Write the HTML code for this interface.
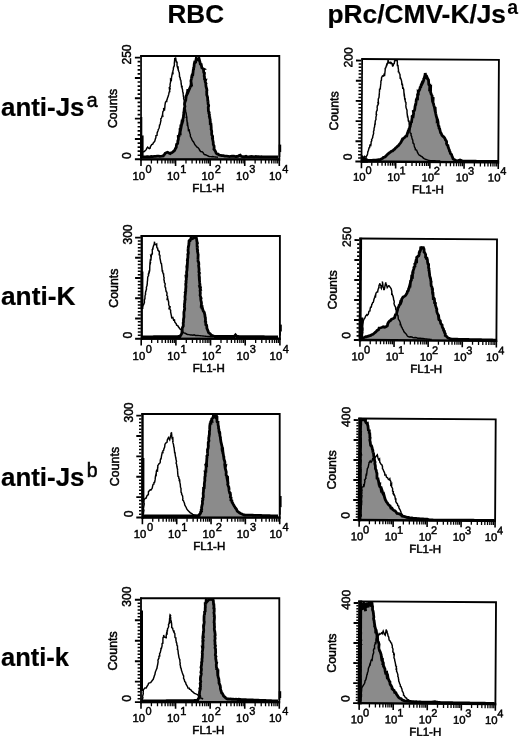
<!DOCTYPE html>
<html lang="en"><head><meta charset="utf-8"><title>Flow cytometry histograms</title>
<style>
html,body{margin:0;padding:0;background:#fff;}
body{width:520px;height:737px;overflow:hidden;}
svg{display:block;}
text{font-family:"Liberation Sans",Arial,Helvetica,sans-serif;fill:#000;}
.b{font-weight:bold;font-size:25px;stroke:#000;stroke-width:.2px;}
.sup{font-size:19.5px;font-weight:normal;stroke:#000;stroke-width:.5px;}
.ax{font-size:11.3px;stroke:#000;stroke-width:.45px;}
.ex{font-size:11px;stroke:#000;stroke-width:.45px;}
.yl{font-size:12px;stroke:#000;stroke-width:.45px;}
.cn{font-size:12.4px;stroke:#000;stroke-width:.5px;}
.fl{font-size:11.5px;stroke:#000;stroke-width:.5px;}
</style></head><body>
<svg width="520" height="737" viewBox="0 0 520 737">
<rect width="520" height="737" fill="#fff"/>
<text class="b" x="167.5" y="23" textLength="56.5" lengthAdjust="spacingAndGlyphs">RBC</text>
<text class="b" x="327.5" y="23" textLength="178.5" lengthAdjust="spacingAndGlyphs">pRc/CMV-K/Js</text>
<text class="sup" x="507.3" y="13.8" style="font-weight:bold;stroke:none">a</text>
<text class="b" x="1" y="115.5" textLength="83.5" lengthAdjust="spacingAndGlyphs">anti-Js</text>
<text class="sup" x="86.8" y="107">a</text>
<text class="b" x="1" y="305" textLength="74.5" lengthAdjust="spacingAndGlyphs">anti-K</text>
<text class="b" x="1" y="485.5" textLength="83.5" lengthAdjust="spacingAndGlyphs">anti-Js</text>
<text class="sup" x="86.8" y="477">b</text>
<text class="b" x="1" y="666.3" textLength="68" lengthAdjust="spacingAndGlyphs">anti-k</text>
<g>
<clipPath id="c1"><rect x="140.2" y="55.5" width="140.7" height="105"/></clipPath>
<g clip-path="url(#c1)">
<path d="M141.5 157 L142.93 156.93 L144.37 156.87 L145.8 156.8 L147.03 156.6 L148.52 156.76 L149.9 156.84 L151.23 156.37 L152.68 156.61 L154.31 156.38 L155.71 156.41 L157.2 156.1 L158.65 156.09 L159.86 156.32 L161.69 156.16 L163.27 155.94 L163.75 155.03 L164.6 154.3 L165.15 153.22 L166.77 152.48 L167.67 152.2 L168.91 153.06 L170.26 153.62 L171.21 152.8 L172.13 152.55 L173.47 151.42 L174.36 150.72 L174.87 149.94 L175.37 148.71 L176.26 147.24 L176.4 145.17 L176.71 144.06 L177.65 143.42 L177.86 140.75 L178.06 140.38 L178.42 138.97 L178.25 136.41 L179.04 136.2 L179.44 134.4 L179.77 132.54 L180.15 132.78 L180.05 129.85 L180.53 129.9 L180.75 127.11 L181.06 127.36 L181.28 126.21 L181.75 123.1 L182.01 123.5 L182.92 120.49 L182.72 119.88 L183.45 116.85 L183.45 117.55 L183.51 115.39 L183.93 113.1 L183.73 112.79 L184.11 111.02 L184.13 110.71 L184.3 108.61 L184.91 106.44 L184.52 104.53 L184.72 102.92 L184.96 102.09 L185.33 101.01 L185.73 100.31 L185.94 97.97 L186.11 97.15 L186.14 95.89 L186.67 95.06 L187.36 92.42 L187.55 91.85 L187.86 89.26 L188.52 91.12 L189.83 88.05 L190.62 86.23 L190.83 87.09 L191.05 84.02 L191.37 84.17 L190.91 80.98 L191.36 79.07 L191.65 77.17 L191.92 78.28 L191.73 76.44 L192.17 75 L192.76 74.99 L193.13 71.41 L193.37 69.44 L193.65 69.19 L193.67 67.06 L193.97 67.71 L194.22 64.1 L194.62 62.35 L195.33 62.55 L195.62 62.31 L196.3 58.1 L196.95 59.15 L198.15 59.91 L199.01 58.43 L200.06 62.45 L200.23 63.67 L200.98 63.55 L201.04 63.08 L201.13 64 L201.83 67.8 L202.97 68.63 L203.85 69.14 L203.46 69.3 L203.78 72.47 L204.48 73.05 L204.17 76.02 L204.49 76.85 L204.54 79.32 L205.29 80.4 L205.55 80.35 L205.17 81.68 L206.03 83.68 L205.79 84.03 L206.01 86.44 L206.8 89.34 L206.93 90.34 L206.65 91.76 L206.78 92.31 L206.76 94.84 L206.94 95.25 L207.43 96.77 L207.56 97.28 L207.75 100.38 L207.74 101.85 L208.02 100.45 L208.01 101.94 L208.11 104.13 L208.43 104.56 L208.68 105.94 L208.24 107.2 L208.47 111.29 L209.14 112.45 L208.87 113.18 L209.48 114.64 L209.29 116.63 L209.8 117.24 L209.67 117.88 L210.18 119.54 L210.19 121.9 L210.33 123.13 L210.27 123.74 L210.93 123.94 L211.11 125.97 L211.25 128.1 L211.11 130.17 L211.38 129.85 L211.71 131.12 L211.65 133.94 L211.83 134.94 L212.56 136.2 L212.68 138.31 L212.41 138.41 L213.02 141.18 L213.25 142.34 L213.26 144.2 L213.67 145.38 L214.04 145.89 L214.17 148.11 L213.91 149.21 L215.03 150.66 L215.54 151.53 L216.17 153.22 L217.09 154.04 L218.16 154.18 L219 155.04 L220.73 155.25 L221.75 155.7 L223.36 155.68 L224.76 156.06 L226.7 156.12 L228.21 156.27 L229.25 156.55 L230.51 156.33 L232.04 156.25 L233.99 156.17 L235.3 156.55 L236.39 156.49 L237.87 156.4 L239.06 155.53 L240.27 155.14 L240.75 155.8 L241.61 156.39 L243.45 156.77 L244.3 156.76 L246.08 156.3 L247.05 156.54 L248.99 156.79 L249.94 156.59 L251.81 156.49 L252.63 156.61 L254.42 156.86 L255.96 156.45 L256.86 156.53 L258.55 156.68 L260.17 156.81 L261.27 156.77 L262.66 156.79 L264.06 156.81 L265.45 156.83 L266.85 156.85 L268.24 156.87 L269.63 156.88 L271.03 156.9 L272.42 156.92 L273.82 156.94 L275.21 156.96 L276.61 156.98 L278 157 L279.3 160.5 L141 160.5 Z" fill="#8b8b8b" stroke="none"/>
<path d="M141.5 157 L142.93 156.93 L144.37 156.87 L145.8 156.8 L147.03 156.6 L148.52 156.76 L149.9 156.84 L151.23 156.37 L152.68 156.61 L154.31 156.38 L155.71 156.41 L157.2 156.1 L158.65 156.09 L159.86 156.32 L161.69 156.16 L163.27 155.94 L163.75 155.03 L164.6 154.3 L165.15 153.22 L166.77 152.48 L167.67 152.2 L168.91 153.06 L170.26 153.62 L171.21 152.8 L172.13 152.55 L173.47 151.42 L174.36 150.72 L174.87 149.94 L175.37 148.71 L176.26 147.24 L176.4 145.17 L176.71 144.06 L177.65 143.42 L177.86 140.75 L178.06 140.38 L178.42 138.97 L178.25 136.41 L179.04 136.2 L179.44 134.4 L179.77 132.54 L180.15 132.78 L180.05 129.85 L180.53 129.9 L180.75 127.11 L181.06 127.36 L181.28 126.21 L181.75 123.1 L182.01 123.5 L182.92 120.49 L182.72 119.88 L183.45 116.85 L183.45 117.55 L183.51 115.39 L183.93 113.1 L183.73 112.79 L184.11 111.02 L184.13 110.71 L184.3 108.61 L184.91 106.44 L184.52 104.53 L184.72 102.92 L184.96 102.09 L185.33 101.01 L185.73 100.31 L185.94 97.97 L186.11 97.15 L186.14 95.89 L186.67 95.06 L187.36 92.42 L187.55 91.85 L187.86 89.26 L188.52 91.12 L189.83 88.05 L190.62 86.23 L190.83 87.09 L191.05 84.02 L191.37 84.17 L190.91 80.98 L191.36 79.07 L191.65 77.17 L191.92 78.28 L191.73 76.44 L192.17 75 L192.76 74.99 L193.13 71.41 L193.37 69.44 L193.65 69.19 L193.67 67.06 L193.97 67.71 L194.22 64.1 L194.62 62.35 L195.33 62.55 L195.62 62.31 L196.3 58.1 L196.95 59.15 L198.15 59.91 L199.01 58.43 L200.06 62.45 L200.23 63.67 L200.98 63.55 L201.04 63.08 L201.13 64 L201.83 67.8 L202.97 68.63 L203.85 69.14 L203.46 69.3 L203.78 72.47 L204.48 73.05 L204.17 76.02 L204.49 76.85 L204.54 79.32 L205.29 80.4 L205.55 80.35 L205.17 81.68 L206.03 83.68 L205.79 84.03 L206.01 86.44 L206.8 89.34 L206.93 90.34 L206.65 91.76 L206.78 92.31 L206.76 94.84 L206.94 95.25 L207.43 96.77 L207.56 97.28 L207.75 100.38 L207.74 101.85 L208.02 100.45 L208.01 101.94 L208.11 104.13 L208.43 104.56 L208.68 105.94 L208.24 107.2 L208.47 111.29 L209.14 112.45 L208.87 113.18 L209.48 114.64 L209.29 116.63 L209.8 117.24 L209.67 117.88 L210.18 119.54 L210.19 121.9 L210.33 123.13 L210.27 123.74 L210.93 123.94 L211.11 125.97 L211.25 128.1 L211.11 130.17 L211.38 129.85 L211.71 131.12 L211.65 133.94 L211.83 134.94 L212.56 136.2 L212.68 138.31 L212.41 138.41 L213.02 141.18 L213.25 142.34 L213.26 144.2 L213.67 145.38 L214.04 145.89 L214.17 148.11 L213.91 149.21 L215.03 150.66 L215.54 151.53 L216.17 153.22 L217.09 154.04 L218.16 154.18 L219 155.04 L220.73 155.25 L221.75 155.7 L223.36 155.68 L224.76 156.06 L226.7 156.12 L228.21 156.27 L229.25 156.55 L230.51 156.33 L232.04 156.25 L233.99 156.17 L235.3 156.55 L236.39 156.49 L237.87 156.4 L239.06 155.53 L240.27 155.14 L240.75 155.8 L241.61 156.39 L243.45 156.77 L244.3 156.76 L246.08 156.3 L247.05 156.54 L248.99 156.79 L249.94 156.59 L251.81 156.49 L252.63 156.61 L254.42 156.86 L255.96 156.45 L256.86 156.53 L258.55 156.68 L260.17 156.81 L261.27 156.77 L262.66 156.79 L264.06 156.81 L265.45 156.83 L266.85 156.85 L268.24 156.87 L269.63 156.88 L271.03 156.9 L272.42 156.92 L273.82 156.94 L275.21 156.96 L276.61 156.98 L278 157" fill="none" stroke="#000" stroke-width="2.8" stroke-linejoin="miter" stroke-miterlimit="3" stroke-linecap="butt"/>
<path d="M141.5 156.5 L141.36 154.87 L141.49 153.3 L142.18 152.2 L143.15 151.86 L144.3 151.57 L145.58 150.34 L146.21 149.64 L146.86 148.21 L147.64 147.08 L148.36 147.91 L149.34 148.6 L150.24 148.1 L150.3 146.86 L150.89 145.84 L151.69 144.56 L152.77 144.11 L153.54 142.5 L153.97 142.14 L154.69 141.43 L155.35 138.94 L155.44 138.64 L155.86 137.89 L155.99 135.58 L156.99 135.41 L157.17 132.73 L157.65 131.61 L158.14 130.41 L158.2 129.7 L159.02 128.23 L159.32 127.16 L159.58 124.58 L159.79 125.4 L160.2 123.95 L160.82 120.84 L160.97 120.72 L160.78 118.77 L161.43 118.15 L162.01 116.61 L162.31 115.51 L162.77 115.81 L162.58 114.14 L162.91 111.54 L163.81 110.56 L163.56 108.06 L164.59 109.3 L164.93 106.53 L164.83 106.31 L165.01 104.8 L165.44 102.28 L166.22 101.18 L166.74 101.28 L166.82 99.95 L167.07 99.72 L167.43 98.33 L168.27 96.09 L168.78 94.13 L169.02 92.75 L169.49 91.36 L169.73 91.41 L169.34 88.1 L170.05 88.37 L169.69 87.1 L170.12 86.49 L170.21 86.04 L170.02 84.64 L170.64 81.55 L170.58 79.45 L171.36 80.11 L171.59 76.7 L171.65 76.95 L172.01 74.97 L172.31 73.46 L173.04 74.42 L172.84 71.23 L173.25 69.66 L173.48 67.55 L173.51 67.32 L174.16 66.2 L174.22 66.81 L174.41 64.23 L174.32 63.35 L174.54 61.21 L174.73 58.93 L175.07 59.08 L175.69 57.58 L175.91 59.5 L176.46 62.68 L176.4 62.29 L177.06 62.21 L177.04 64.83 L177.01 65.54 L177.78 68.63 L178.08 66.33 L178.2 70.43 L178.25 69.73 L178.79 71.41 L179.25 72.55 L179.51 75.26 L179.46 76.56 L180.11 77.83 L179.97 76.83 L180.48 80.46 L180.79 79.78 L181.11 82.76 L181.17 83.95 L181.62 86.14 L181.41 87.35 L182.16 85.72 L182.02 87.81 L182.58 89.78 L182.69 91.97 L183.02 92.33 L183.31 94.38 L183.09 93.11 L183.48 96.84 L183.94 97.13 L183.59 98.7 L184.24 100.3 L183.94 99.33 L184.31 101.18 L184.38 104.02 L184.85 104.72 L185.12 106.38 L184.76 106.7 L185.04 109.68 L185.3 108.84 L185.77 112.05 L185.6 111.41 L185.75 111.98 L186.15 113.19 L186.57 116.61 L186.32 117.23 L186.81 117.24 L186.88 120.42 L187.01 121.7 L187.07 120.76 L187.31 124.47 L187.64 124.08 L187.7 125.49 L188.07 126.99 L188.17 127.36 L188.41 130.46 L189.32 130.13 L189.36 131.43 L189.87 133.27 L190.41 134.74 L190.3 135.92 L190.67 136.86 L191.34 138 L192.06 139.86 L192.89 141.22 L193.31 141.58 L194.25 143.21 L194.73 144.45 L195.79 145.77 L196.83 146.64 L197.09 147.45 L197.98 147.64 L199.01 148.89 L199.69 150.28 L200.62 151.55 L202.03 151.67 L203.02 152.44 L203.72 153.86 L204.44 154.49 L205.49 154.79 L206.97 155.38 L208.19 156.02 L209.19 156.43 L210.67 156.62 L211.79 156.78 L212.74 156.56 L214.25 156.88 L215.5 157 L216.75 157.12 L218 157.25" fill="none" stroke="#000" stroke-width="1.45" stroke-linejoin="miter" stroke-miterlimit="3"/>
</g>
<path d="M140.2 56H279.3V160.5" fill="none" stroke="#000" stroke-width="1.85" stroke-linejoin="miter"/>
<rect x="140.2" y="55.2" width="1.7" height="105.3" fill="#000"/>
<rect x="140.2" y="158.2" width="139.9" height="2.3" fill="#000"/>
<rect x="140.2" y="117" width="2.1" height="41" fill="#000"/>
<rect x="140.2" y="135.45" width="3.4" height="22.55" fill="#000"/>
<rect x="278.7" y="144.6" width="2.5" height="7.5" fill="#000"/>
<rect x="278.7" y="152.1" width="1.6" height="4.9" fill="#000"/>
<path d="M137.6 61.67H140.4M137.6 65.74H140.4M137.6 69.8H140.4M137.6 73.87H140.4M137.6 82.01H140.4M137.6 86.08H140.4M137.6 90.14H140.4M137.6 94.21H140.4M137.6 102.35H140.4M137.6 106.42H140.4M137.6 110.48H140.4M137.6 114.55H140.4M137.6 122.69H140.4M137.6 126.76H140.4M137.6 130.82H140.4M137.6 134.89H140.4M137.6 143.03H140.4M137.6 147.1H140.4M137.6 151.16H140.4M137.6 155.23H140.4" stroke="#000" stroke-width="1.7" fill="none"/>
<path d="M134.9 57.6H140.4M134.9 77.94H140.4M134.9 98.28H140.4M134.9 118.62H140.4M134.9 138.96H140.4M134.9 159.3H140.4" stroke="#000" stroke-width="1.9" fill="none"/>
<path d="M151.41 160V163.5M157.5 160V163.5M161.82 160V163.5M165.17 160V163.5M167.9 160V163.5M170.22 160V163.5M172.22 160V163.5M173.99 160V163.5M185.98 160V163.5M192.07 160V163.5M196.39 160V163.5M199.74 160V163.5M202.48 160V163.5M204.79 160V163.5M206.8 160V163.5M208.57 160V163.5M220.56 160V163.5M226.65 160V163.5M230.97 160V163.5M234.32 160V163.5M237.05 160V163.5M239.37 160V163.5M241.37 160V163.5M243.14 160V163.5M255.13 160V163.5M261.22 160V163.5M265.54 160V163.5M268.89 160V163.5M271.63 160V163.5M273.94 160V163.5M275.95 160V163.5M277.72 160V163.5" stroke="#000" stroke-width="1.3" fill="none"/>
<path d="M141 160V166M175.57 160V166M210.15 160V166M244.73 160V166M279.3 160V166" stroke="#000" stroke-width="1.6" fill="none"/>
<text class="ax" x="132.4" y="180.1">10</text><text class="ex" x="145.6" y="173.1">0</text>
<text class="ax" x="166.97" y="180.1">10</text><text class="ex" x="180.17" y="173.1">1</text>
<text class="ax" x="201.55" y="180.1">10</text><text class="ex" x="214.75" y="173.1">2</text>
<text class="ax" x="236.12" y="180.1">10</text><text class="ex" x="249.33" y="173.1">3</text>
<text class="ax" x="269" y="180.1">10</text><text class="ex" x="282.2" y="173.1">4</text>
<text class="fl" x="208.35" y="192.2" text-anchor="middle">FL1-H</text>
<text class="yl" transform="translate(131.3 54.5) rotate(-90)" text-anchor="middle">250</text>
<text class="yl" transform="translate(131.3 155.7) rotate(-90)" text-anchor="middle">0</text>
<text class="cn" transform="translate(117.4 108.45) rotate(-90)" text-anchor="middle">Counts</text>
</g>
<g transform="rotate(0.35 430.2 110.5)">
<clipPath id="c2"><rect x="360.99" y="58.91" width="139.22" height="104.18"/></clipPath>
<g clip-path="url(#c2)">
<path d="M363.85 160.94 L365.22 160.9 L366.59 160.85 L367.96 160.81 L369.33 160.76 L370.7 160.71 L372.07 160.67 L373.44 160.62 L374.81 160.58 L376.27 160.39 L377.73 160.21 L379.19 160.03 L380.65 159.85 L381.5 159.27 L382.94 158.67 L383.76 157.64 L384.92 157.43 L386.14 156.5 L387.18 155.18 L388.61 153.93 L389.22 153.37 L390.61 152.31 L391.66 151.44 L392.83 151.13 L394.04 149.95 L394.88 149.5 L395.82 148.11 L397.06 147.26 L397.68 146.41 L398.77 145.74 L399.74 144.19 L400.72 143.08 L401.04 142.7 L402.16 140.26 L402.28 140.4 L403.58 138.44 L404.35 138.03 L406.05 136.14 L406.93 136.06 L407.28 134.31 L407.73 133.2 L408.31 131.11 L408.93 130 L409.25 128.74 L409.78 127.73 L410.32 126.58 L410.3 124.67 L410.66 124.63 L410.91 122.58 L411.65 122.12 L411.73 120.8 L412.18 117.85 L412.11 116.39 L412.91 115.65 L413.25 115.91 L413.62 113.25 L413.3 111.41 L413.76 111.15 L414.41 110.62 L414.73 109.38 L415.01 106.61 L415.46 104.64 L415.74 104.62 L416.12 101.24 L415.97 102.58 L416.26 99.68 L416.9 98.41 L417.46 98.6 L417.45 94.68 L418.21 94.4 L418.11 92.06 L418.31 92.21 L418.87 90.82 L419.68 89.27 L420.19 86.64 L420.54 87.76 L421.17 84.06 L421.34 84.65 L421.89 83.14 L422.15 83.44 L423.06 81.52 L423.6 79.77 L423.47 79.07 L423.98 78.06 L424.85 74.86 L424.99 73.12 L425.74 77.38 L426.5 77.94 L426.87 77.42 L427.55 78.95 L428.33 80 L428.43 81.35 L428.61 84.51 L429.09 85.17 L429.66 85.18 L429.53 88.59 L430.51 87.71 L430.45 92.34 L431.04 93.68 L431.14 94.98 L431.13 94.72 L432.01 95.83 L432.04 97.39 L432.32 99.9 L433.05 99.46 L432.92 102.59 L433.53 103.98 L433.81 105.64 L434.24 106.16 L434.17 105.98 L434.9 109.64 L435.25 109.37 L435.47 112.66 L435.42 111.56 L435.72 113.53 L436.4 116.57 L436.82 117.63 L437.26 119.78 L437.25 121 L437.81 120.66 L438.08 121.86 L438.31 124.79 L438.41 125.5 L439.07 126.28 L439.18 128.2 L439.73 128.62 L440.36 131.15 L440.72 132.61 L441.31 133.18 L442.09 135.22 L443.04 136.2 L443.48 136.36 L444.7 137.7 L445.42 139.07 L445.54 139.66 L446.5 140.79 L446.85 141.72 L446.69 143.53 L447.31 144.9 L448.07 145.25 L448.37 146.99 L449.14 148.88 L449.62 149.94 L449.73 150.98 L450.35 151.89 L450.66 153.43 L451.82 154.38 L452.17 155.71 L452.91 157.3 L453.45 158.84 L454.83 159.5 L455.92 160.24 L457.02 160.99 L458.66 160.42 L460.31 159.85 L461.77 160.42 L463.23 160.99 L464.65 160.99 L466.06 160.99 L467.48 160.99 L468.89 160.99 L470.31 160.99 L471.72 160.99 L473.14 160.99 L474.55 160.99 L475.97 160.99 L477.38 160.99 L478.8 160.99 L480.21 160.99 L481.63 160.99 L483.04 160.99 L484.46 160.99 L485.87 160.99 L487.29 160.99 L488.7 160.99 L490.12 160.99 L491.53 160.99 L492.95 160.99 L494.36 160.99 L495.78 160.99 L497.19 160.99 L498.61 160.99 L498.61 163.09 L361.79 163.09 Z" fill="#8b8b8b" stroke="none"/>
<path d="M363.85 160.94 L365.22 160.9 L366.59 160.85 L367.96 160.81 L369.33 160.76 L370.7 160.71 L372.07 160.67 L373.44 160.62 L374.81 160.58 L376.27 160.39 L377.73 160.21 L379.19 160.03 L380.65 159.85 L381.5 159.27 L382.94 158.67 L383.76 157.64 L384.92 157.43 L386.14 156.5 L387.18 155.18 L388.61 153.93 L389.22 153.37 L390.61 152.31 L391.66 151.44 L392.83 151.13 L394.04 149.95 L394.88 149.5 L395.82 148.11 L397.06 147.26 L397.68 146.41 L398.77 145.74 L399.74 144.19 L400.72 143.08 L401.04 142.7 L402.16 140.26 L402.28 140.4 L403.58 138.44 L404.35 138.03 L406.05 136.14 L406.93 136.06 L407.28 134.31 L407.73 133.2 L408.31 131.11 L408.93 130 L409.25 128.74 L409.78 127.73 L410.32 126.58 L410.3 124.67 L410.66 124.63 L410.91 122.58 L411.65 122.12 L411.73 120.8 L412.18 117.85 L412.11 116.39 L412.91 115.65 L413.25 115.91 L413.62 113.25 L413.3 111.41 L413.76 111.15 L414.41 110.62 L414.73 109.38 L415.01 106.61 L415.46 104.64 L415.74 104.62 L416.12 101.24 L415.97 102.58 L416.26 99.68 L416.9 98.41 L417.46 98.6 L417.45 94.68 L418.21 94.4 L418.11 92.06 L418.31 92.21 L418.87 90.82 L419.68 89.27 L420.19 86.64 L420.54 87.76 L421.17 84.06 L421.34 84.65 L421.89 83.14 L422.15 83.44 L423.06 81.52 L423.6 79.77 L423.47 79.07 L423.98 78.06 L424.85 74.86 L424.99 73.12 L425.74 77.38 L426.5 77.94 L426.87 77.42 L427.55 78.95 L428.33 80 L428.43 81.35 L428.61 84.51 L429.09 85.17 L429.66 85.18 L429.53 88.59 L430.51 87.71 L430.45 92.34 L431.04 93.68 L431.14 94.98 L431.13 94.72 L432.01 95.83 L432.04 97.39 L432.32 99.9 L433.05 99.46 L432.92 102.59 L433.53 103.98 L433.81 105.64 L434.24 106.16 L434.17 105.98 L434.9 109.64 L435.25 109.37 L435.47 112.66 L435.42 111.56 L435.72 113.53 L436.4 116.57 L436.82 117.63 L437.26 119.78 L437.25 121 L437.81 120.66 L438.08 121.86 L438.31 124.79 L438.41 125.5 L439.07 126.28 L439.18 128.2 L439.73 128.62 L440.36 131.15 L440.72 132.61 L441.31 133.18 L442.09 135.22 L443.04 136.2 L443.48 136.36 L444.7 137.7 L445.42 139.07 L445.54 139.66 L446.5 140.79 L446.85 141.72 L446.69 143.53 L447.31 144.9 L448.07 145.25 L448.37 146.99 L449.14 148.88 L449.62 149.94 L449.73 150.98 L450.35 151.89 L450.66 153.43 L451.82 154.38 L452.17 155.71 L452.91 157.3 L453.45 158.84 L454.83 159.5 L455.92 160.24 L457.02 160.99 L458.66 160.42 L460.31 159.85 L461.77 160.42 L463.23 160.99 L464.65 160.99 L466.06 160.99 L467.48 160.99 L468.89 160.99 L470.31 160.99 L471.72 160.99 L473.14 160.99 L474.55 160.99 L475.97 160.99 L477.38 160.99 L478.8 160.99 L480.21 160.99 L481.63 160.99 L483.04 160.99 L484.46 160.99 L485.87 160.99 L487.29 160.99 L488.7 160.99 L490.12 160.99 L491.53 160.99 L492.95 160.99 L494.36 160.99 L495.78 160.99 L497.19 160.99 L498.61 160.99" fill="none" stroke="#000" stroke-width="2.8" stroke-linejoin="miter" stroke-miterlimit="3" stroke-linecap="butt"/>
<path d="M363.85 160.58 L364.27 159.2 L364.27 157.42 L364.7 156.62 L365.62 157.22 L366.44 157.67 L366.93 156.31 L367.58 155.34 L367.88 154.05 L368.11 151.84 L368.57 151.24 L369.11 148.96 L369.22 148.16 L369.82 147.98 L370.12 145.6 L370.99 145.84 L371.34 143.35 L371.27 142.34 L372.01 141.01 L371.75 139.95 L372.49 138.68 L372.91 137.66 L372.96 136.2 L373 136.38 L373.78 133.84 L373.61 132.2 L373.7 131.58 L374.12 130.68 L374.2 128.38 L374.55 127.5 L374.6 127.69 L374.97 123.99 L375.43 125.06 L375.23 123.78 L375.23 122.32 L375.47 120.86 L376.03 119.8 L375.95 117.7 L376.58 114.96 L376.23 114.88 L376.38 112.16 L376.48 111.72 L377.1 110.78 L377.26 108.19 L377.09 108.52 L377.31 105.56 L377.42 106.24 L378.22 104.43 L377.72 102.14 L378.36 102.72 L378.19 100.35 L378.24 99.26 L378.91 97.8 L379.09 95.58 L379.18 95.04 L379.3 92.35 L379.36 92.9 L379.37 91.34 L379.4 89.59 L380.23 89.12 L380.11 88.64 L380.42 86.07 L380.38 86.12 L380.7 83.44 L380.75 80.92 L380.8 81.31 L381.23 80.68 L381.35 77.93 L382.28 76.2 L383.41 76.45 L383.8 74.68 L384.44 75.17 L384.6 73.58 L384.94 70.27 L384.93 69.35 L384.93 68.55 L385.54 68.04 L385.66 67.52 L386.48 64.8 L386.67 65.17 L387.54 62.84 L387.75 60.41 L388.85 63.3 L390.11 62.76 L390.73 64.31 L390.88 62.89 L391.79 63.75 L392.26 65.89 L392.01 66.6 L392.97 65.92 L392.97 63.49 L393.35 64.41 L394.01 63.75 L394.28 61.03 L395.67 60.65 L396.87 60.41 L397.09 62.78 L397.03 64.23 L397.17 66.38 L397.63 65.07 L397.89 67.74 L398.08 69.34 L398.3 69.95 L398.08 71.99 L398.86 72.37 L399.07 73.9 L399.17 73.55 L399.74 74.65 L399.98 78.2 L400.3 78.11 L401.02 80.01 L401.04 79.83 L401.5 81.79 L401.79 85.25 L402.18 83.88 L402.56 86.79 L402.35 85.87 L402.64 89.02 L403.05 88.2 L403.62 89.64 L403.79 92.36 L404 94.65 L404.18 94.39 L404.3 95.03 L404.36 95.65 L404.67 99.78 L405.14 98.31 L405.1 100.81 L405.44 102.33 L405.88 102.62 L405.96 105.32 L405.75 105.06 L406.04 107.77 L406.77 109.84 L406.98 110.11 L407.05 111.73 L407.02 112.42 L407.11 113.2 L407.48 116.2 L407.57 116.09 L407.67 116.13 L408.19 118.8 L408.4 121.08 L408.57 121.33 L409.05 121.25 L409.18 122.49 L409.46 125.3 L409.59 126.75 L409.28 126.07 L409.75 127.27 L410.29 128.76 L410.02 131.25 L410.14 132.77 L410.51 133.25 L411.22 133.56 L411.17 135.53 L411.86 136.66 L412.02 137.81 L412.5 139.54 L412.91 140.08 L413.21 143.11 L413.42 143.07 L414.22 144.15 L414.46 145.82 L414.65 146.92 L415.51 148.59 L415.56 149.74 L416.81 150.25 L417.35 151.35 L417.75 152.46 L418.71 154.17 L419.53 155.19 L420.41 155.53 L421.12 156.24 L422.57 156.96 L423.43 157.94 L424.38 158.71 L425.81 159.34 L426.88 159.66 L428.25 160.12 L429.62 160.58 L430.99 160.63 L432.36 160.68 L433.73 160.73 L435.1 160.78 L436.47 160.84 L437.84 160.89 L439.21 160.94 L440.58 160.99" fill="none" stroke="#000" stroke-width="1.45" stroke-linejoin="miter" stroke-miterlimit="3"/>
</g>
<path d="M360.99 59.41H498.61V163.09" fill="none" stroke="#000" stroke-width="1.85" stroke-linejoin="miter"/>
<rect x="360.99" y="58.61" width="1.7" height="104.48" fill="#000"/>
<rect x="360.99" y="160.79" width="138.42" height="2.3" fill="#000"/>
<path d="M360.99 153.59L363.99 157.09L368.29 159.09L368.29 163.09L360.99 163.09Z" fill="#000"/>
<path d="M358.39 64.37H361.19M358.39 67.74H361.19M358.39 71.1H361.19M358.39 74.46H361.19M358.39 77.82H361.19M358.39 84.55H361.19M358.39 87.91H361.19M358.39 91.27H361.19M358.39 94.64H361.19M358.39 98H361.19M358.39 104.72H361.19M358.39 108.09H361.19M358.39 111.45H361.19M358.39 114.81H361.19M358.39 118.18H361.19M358.39 124.9H361.19M358.39 128.26H361.19M358.39 131.63H361.19M358.39 134.99H361.19M358.39 138.35H361.19M358.39 145.08H361.19M358.39 148.44H361.19M358.39 151.8H361.19M358.39 155.16H361.19M358.39 158.53H361.19" stroke="#000" stroke-width="1.5" fill="none"/>
<path d="M355.69 61.01H361.19M355.69 81.19H361.19M355.69 101.36H361.19M355.69 121.54H361.19M355.69 141.71H361.19M355.69 161.89H361.19" stroke="#000" stroke-width="1.9" fill="none"/>
<path d="M372.09 162.59V166.09M378.11 162.59V166.09M382.38 162.59V166.09M385.7 162.59V166.09M388.41 162.59V166.09M390.7 162.59V166.09M392.68 162.59V166.09M394.43 162.59V166.09M406.29 162.59V166.09M412.31 162.59V166.09M416.59 162.59V166.09M419.9 162.59V166.09M422.61 162.59V166.09M424.9 162.59V166.09M426.89 162.59V166.09M428.63 162.59V166.09M440.5 162.59V166.09M446.52 162.59V166.09M450.79 162.59V166.09M454.11 162.59V166.09M456.82 162.59V166.09M459.11 162.59V166.09M461.09 162.59V166.09M462.84 162.59V166.09M474.7 162.59V166.09M480.72 162.59V166.09M485 162.59V166.09M488.31 162.59V166.09M491.02 162.59V166.09M493.31 162.59V166.09M495.3 162.59V166.09M497.04 162.59V166.09" stroke="#000" stroke-width="1.3" fill="none"/>
<path d="M361.79 162.59V168.59M396 162.59V168.59M430.2 162.59V168.59M464.41 162.59V168.59M498.61 162.59V168.59" stroke="#000" stroke-width="1.6" fill="none"/>
<text class="ax" x="353.49" y="181.21">10</text><text class="ex" x="365.79" y="174.41">0</text>
<text class="ax" x="387.69" y="181.21">10</text><text class="ex" x="400" y="174.41">1</text>
<text class="ax" x="421.9" y="181.21">10</text><text class="ex" x="434.2" y="174.41">2</text>
<text class="ax" x="456.11" y="181.21">10</text><text class="ex" x="468.41" y="174.41">3</text>
<text class="ax" x="488.31" y="181.21">10</text><text class="ex" x="500.61" y="174.41">4</text>
<text class="fl" x="428.4" y="193.41" text-anchor="middle">FL1-H</text>
<text class="yl" transform="translate(352.09 57.91) rotate(-90)" text-anchor="middle">200</text>
<text class="yl" transform="translate(352.09 157.29) rotate(-90)" text-anchor="middle">0</text>
<text class="cn" transform="translate(338.19 111.5) rotate(-90)" text-anchor="middle">Counts</text>
</g>
<g>
<clipPath id="c3"><rect x="140.6" y="235.5" width="140.9" height="104.4"/></clipPath>
<g clip-path="url(#c3)">
<path d="M141.5 336.9 L142.88 336.89 L144.25 336.87 L145.62 336.86 L147 336.84 L148.38 336.83 L149.75 336.81 L151.12 336.8 L152.5 336.79 L153.88 336.77 L155.25 336.76 L156.62 336.74 L158 336.73 L159.38 336.71 L160.75 336.7 L162.12 336.69 L163.5 336.67 L164.88 336.66 L166.25 336.64 L167.62 336.63 L169 336.61 L170.38 336.6 L171.75 336.59 L173.12 336.57 L174.5 336.56 L175.88 336.54 L177.25 336.53 L178.62 336.51 L180 336.5 L180.58 335.42 L181.31 334.2 L181.78 333.32 L181.93 332.08 L182.21 330.59 L182.2 328.81 L182.43 327.6 L183.26 326.02 L183.3 324.67 L183.16 322.99 L183.5 322.03 L183.45 320.43 L183.52 319.21 L183.85 317.47 L183.96 317.05 L183.95 315.97 L183.89 314.53 L183.89 312.12 L184.43 310.09 L184.39 310.46 L184.71 308.73 L184.39 306.63 L184.68 304.65 L184.34 305.09 L184.84 302.05 L184.78 300.94 L185.18 299.54 L185.16 299.27 L184.96 296.66 L185.18 295.63 L185.32 294.05 L185.54 292.9 L185.16 292.46 L185.78 290.83 L185.62 289.97 L185.97 286.18 L185.74 284.8 L185.72 284.04 L185.89 283.91 L186.25 281.29 L185.75 282.06 L186.38 279.3 L186 276.34 L186.66 276.38 L186.7 275.75 L186.71 274.4 L186.45 271.19 L186.67 271.44 L187.01 269.99 L186.95 267.64 L186.77 266.84 L187.18 264.91 L187.32 265.06 L187.56 260.65 L187.21 261.03 L187.61 258.52 L187.89 257.77 L187.89 254.95 L187.66 253.46 L188.14 253.9 L188.36 252.85 L188.04 250.56 L188.19 248.6 L188.11 248.92 L188.37 246.82 L188.85 244.74 L188.86 243.52 L188.98 243.44 L189.02 241.01 L189.23 240.67 L190.11 240.58 L190.99 238.14 L192.27 238.77 L193.64 238.06 L194.42 237.2 L196.18 237.2 L196.67 239.53 L196.89 241.46 L197.32 242.61 L197.41 243.14 L197.05 243.37 L197.15 247.78 L197.54 246 L197.21 249 L197.67 250.06 L197.41 251.13 L198.1 254.18 L198.15 253.9 L198.14 255.01 L197.97 259.07 L198 258.09 L198.1 261.47 L198.52 261.86 L198.72 262.78 L198.86 265.21 L198.52 264.75 L198.78 266.82 L199.04 268.87 L199.1 270.06 L198.86 271.88 L199.45 272.89 L199.35 272.98 L199.03 275.02 L199.45 277.25 L199.46 278.04 L199.28 277.91 L199.39 280.09 L199.57 280.95 L199.71 282.89 L200.11 285.98 L200.3 286.76 L199.68 286.72 L200.44 289.36 L200.41 289.36 L200.05 290.47 L200.31 292.55 L200.34 293.33 L200.1 295.35 L200.8 297.38 L200.72 297.38 L200.79 299.6 L201.09 301.14 L201.38 302.31 L201.49 303.17 L201.25 306.41 L202.06 306.51 L201.91 309.11 L202.5 308.45 L203.09 310.64 L203.36 311.26 L204.16 312.15 L204.39 313.26 L204.81 314.64 L205.08 316.94 L205.36 317.4 L205.5 319.85 L205.28 321.61 L205.75 321.93 L205.8 324.59 L206.46 324.97 L206.77 326.21 L206.89 328.41 L207.59 329.94 L208.08 331.09 L208.47 332.38 L209.28 333.18 L210.34 333.94 L211.22 335.12 L212.25 335.5 L213.5 336 L214.75 336.5 L216.14 336.5 L217.54 336.5 L218.93 336.5 L220.32 336.5 L221.71 336.5 L223.11 336.5 L224.5 336.5 L225.89 336.5 L227.29 336.5 L228.68 336.5 L230.07 336.5 L231.46 336.5 L232.86 336.5 L234.25 336.5 L234.88 335.62 L235.51 334.91 L236.12 335.62 L236.75 336.5 L238.17 336.51 L239.59 336.53 L241.02 336.54 L242.44 336.56 L243.86 336.57 L245.28 336.58 L246.71 336.6 L248.13 336.61 L249.55 336.62 L250.97 336.64 L252.4 336.65 L253.82 336.67 L255.24 336.68 L256.66 336.69 L258.09 336.71 L259.51 336.72 L260.93 336.73 L262.35 336.75 L263.78 336.76 L265.2 336.78 L266.62 336.79 L268.04 336.8 L269.47 336.82 L270.89 336.83 L272.31 336.84 L273.73 336.86 L275.16 336.87 L276.58 336.89 L278 336.9 L279.9 339.9 L141.2 339.9 Z" fill="#8b8b8b" stroke="none"/>
<path d="M141.5 336.9 L142.88 336.89 L144.25 336.87 L145.62 336.86 L147 336.84 L148.38 336.83 L149.75 336.81 L151.12 336.8 L152.5 336.79 L153.88 336.77 L155.25 336.76 L156.62 336.74 L158 336.73 L159.38 336.71 L160.75 336.7 L162.12 336.69 L163.5 336.67 L164.88 336.66 L166.25 336.64 L167.62 336.63 L169 336.61 L170.38 336.6 L171.75 336.59 L173.12 336.57 L174.5 336.56 L175.88 336.54 L177.25 336.53 L178.62 336.51 L180 336.5 L180.58 335.42 L181.31 334.2 L181.78 333.32 L181.93 332.08 L182.21 330.59 L182.2 328.81 L182.43 327.6 L183.26 326.02 L183.3 324.67 L183.16 322.99 L183.5 322.03 L183.45 320.43 L183.52 319.21 L183.85 317.47 L183.96 317.05 L183.95 315.97 L183.89 314.53 L183.89 312.12 L184.43 310.09 L184.39 310.46 L184.71 308.73 L184.39 306.63 L184.68 304.65 L184.34 305.09 L184.84 302.05 L184.78 300.94 L185.18 299.54 L185.16 299.27 L184.96 296.66 L185.18 295.63 L185.32 294.05 L185.54 292.9 L185.16 292.46 L185.78 290.83 L185.62 289.97 L185.97 286.18 L185.74 284.8 L185.72 284.04 L185.89 283.91 L186.25 281.29 L185.75 282.06 L186.38 279.3 L186 276.34 L186.66 276.38 L186.7 275.75 L186.71 274.4 L186.45 271.19 L186.67 271.44 L187.01 269.99 L186.95 267.64 L186.77 266.84 L187.18 264.91 L187.32 265.06 L187.56 260.65 L187.21 261.03 L187.61 258.52 L187.89 257.77 L187.89 254.95 L187.66 253.46 L188.14 253.9 L188.36 252.85 L188.04 250.56 L188.19 248.6 L188.11 248.92 L188.37 246.82 L188.85 244.74 L188.86 243.52 L188.98 243.44 L189.02 241.01 L189.23 240.67 L190.11 240.58 L190.99 238.14 L192.27 238.77 L193.64 238.06 L194.42 237.2 L196.18 237.2 L196.67 239.53 L196.89 241.46 L197.32 242.61 L197.41 243.14 L197.05 243.37 L197.15 247.78 L197.54 246 L197.21 249 L197.67 250.06 L197.41 251.13 L198.1 254.18 L198.15 253.9 L198.14 255.01 L197.97 259.07 L198 258.09 L198.1 261.47 L198.52 261.86 L198.72 262.78 L198.86 265.21 L198.52 264.75 L198.78 266.82 L199.04 268.87 L199.1 270.06 L198.86 271.88 L199.45 272.89 L199.35 272.98 L199.03 275.02 L199.45 277.25 L199.46 278.04 L199.28 277.91 L199.39 280.09 L199.57 280.95 L199.71 282.89 L200.11 285.98 L200.3 286.76 L199.68 286.72 L200.44 289.36 L200.41 289.36 L200.05 290.47 L200.31 292.55 L200.34 293.33 L200.1 295.35 L200.8 297.38 L200.72 297.38 L200.79 299.6 L201.09 301.14 L201.38 302.31 L201.49 303.17 L201.25 306.41 L202.06 306.51 L201.91 309.11 L202.5 308.45 L203.09 310.64 L203.36 311.26 L204.16 312.15 L204.39 313.26 L204.81 314.64 L205.08 316.94 L205.36 317.4 L205.5 319.85 L205.28 321.61 L205.75 321.93 L205.8 324.59 L206.46 324.97 L206.77 326.21 L206.89 328.41 L207.59 329.94 L208.08 331.09 L208.47 332.38 L209.28 333.18 L210.34 333.94 L211.22 335.12 L212.25 335.5 L213.5 336 L214.75 336.5 L216.14 336.5 L217.54 336.5 L218.93 336.5 L220.32 336.5 L221.71 336.5 L223.11 336.5 L224.5 336.5 L225.89 336.5 L227.29 336.5 L228.68 336.5 L230.07 336.5 L231.46 336.5 L232.86 336.5 L234.25 336.5 L234.88 335.62 L235.51 334.91 L236.12 335.62 L236.75 336.5 L238.17 336.51 L239.59 336.53 L241.02 336.54 L242.44 336.56 L243.86 336.57 L245.28 336.58 L246.71 336.6 L248.13 336.61 L249.55 336.62 L250.97 336.64 L252.4 336.65 L253.82 336.67 L255.24 336.68 L256.66 336.69 L258.09 336.71 L259.51 336.72 L260.93 336.73 L262.35 336.75 L263.78 336.76 L265.2 336.78 L266.62 336.79 L268.04 336.8 L269.47 336.82 L270.89 336.83 L272.31 336.84 L273.73 336.86 L275.16 336.87 L276.58 336.89 L278 336.9" fill="none" stroke="#000" stroke-width="2.8" stroke-linejoin="miter" stroke-miterlimit="3" stroke-linecap="butt"/>
<path d="M141.5 307 L142.21 307.78 L143.01 305.08 L143.57 304.73 L144.04 303.52 L144.41 302.68 L144.35 299.73 L144.95 298.52 L144.91 299.53 L144.98 296.37 L145.21 294.95 L145.67 293.95 L145.4 293.51 L145.73 291.1 L145.76 291.71 L146.21 289.79 L146.49 289.33 L146.4 287.4 L147.13 285.1 L147.05 284.01 L147.18 284.61 L147.31 282.74 L147.36 281.63 L147.56 280.42 L147.72 277.34 L148.03 276.29 L148.57 275.76 L148.23 273.45 L148.67 273.95 L149 271.93 L149.29 272.27 L149.56 271.19 L149.72 269.93 L149.75 267.67 L149.83 265.37 L150.19 264.08 L150.41 263.04 L149.97 263.26 L150.46 258.94 L150.87 260.58 L151.09 258.12 L150.77 255.94 L151.28 256.4 L151.54 253.52 L151.5 255.06 L152.35 253.7 L152.26 249.11 L152.3 249.71 L153.01 249.02 L152.73 248.65 L153.6 245.6 L154.19 244.39 L154.53 241.71 L154.7 244.25 L155.82 244.68 L156.66 244.07 L156.83 247.33 L157.28 248.06 L157.57 247.48 L157.86 250.26 L158.79 251.24 L158.89 251.03 L159.39 251.77 L159.18 254.75 L159.74 254.95 L159.99 255.56 L159.9 257.97 L160.55 260.91 L160.73 262.34 L161.19 263.71 L161.4 262.97 L161.6 265.17 L161.58 264.6 L161.88 267.14 L161.94 267.76 L162.25 271 L162.66 270.98 L162.64 271.83 L163.41 274.37 L163.57 273.39 L163.72 276.76 L163.58 276.5 L164.15 277.61 L163.89 279.95 L164.25 280.55 L164.42 282.66 L164.84 283.09 L165.21 283.8 L164.97 285.42 L165 287.02 L165.55 287.57 L165.75 289.43 L166.06 290.88 L166.14 291.62 L166.76 292.06 L167.02 293.51 L166.77 295.57 L167.59 296.26 L167.19 298.92 L167.76 298.56 L168.27 300.96 L168.41 301.04 L168.65 302.15 L168.69 304.67 L169.49 306.76 L169.21 307.93 L169.99 307.35 L169.69 308.85 L170.64 310.23 L170.61 312.34 L170.82 312.92 L171.21 315.11 L171.26 314.86 L171.71 317.85 L172.83 317.48 L173.58 320.21 L174.48 319.96 L174.74 321.93 L176.23 323.88 L176.61 325.16 L177.8 325.64 L178.19 326.52 L179.15 327.74 L180.09 329.21 L181.25 329.45 L181.47 330.86 L182.34 331.25 L183.48 332.59 L184.44 333.14 L185.25 333.3 L186.95 334.24 L187.71 334.55 L188.94 334.6 L190.73 335.04 L191.81 335.09 L193 335.27 L194.06 334.86 L195.49 335.51 L196.85 335.47 L198 335.5 L199.25 335.62 L200.5 335.75 L201.75 335.88 L203 336 L204.25 336.12 L205.5 336.25 L206.75 336.36 L208 336.47 L209.25 336.58 L210.5 336.68 L211.75 336.79 L213 336.9" fill="none" stroke="#000" stroke-width="1.45" stroke-linejoin="miter" stroke-miterlimit="3"/>
</g>
<path d="M140.6 236H279.9V339.9" fill="none" stroke="#000" stroke-width="1.85" stroke-linejoin="miter"/>
<rect x="140.6" y="235.2" width="2.3" height="104.7" fill="#000"/>
<rect x="140.6" y="337.6" width="140.1" height="2.3" fill="#000"/>
<rect x="140.6" y="271.5" width="2.8" height="37.5" fill="#000"/>
<rect x="279.3" y="324.6" width="2.5" height="6.9" fill="#000"/>
<rect x="279.3" y="331.5" width="1.6" height="4.1" fill="#000"/>
<path d="M137.8 240.97H140.8M137.8 244.34H140.8M137.8 247.71H140.8M137.8 251.08H140.8M137.8 254.45H140.8M137.8 261.19H140.8M137.8 264.56H140.8M137.8 267.93H140.8M137.8 271.3H140.8M137.8 274.67H140.8M137.8 281.41H140.8M137.8 284.78H140.8M137.8 288.15H140.8M137.8 291.52H140.8M137.8 294.89H140.8M137.8 301.63H140.8M137.8 305H140.8M137.8 308.37H140.8M137.8 311.74H140.8M137.8 315.11H140.8M137.8 321.85H140.8M137.8 325.22H140.8M137.8 328.59H140.8M137.8 331.96H140.8M137.8 335.33H140.8" stroke="#000" stroke-width="1.5" fill="none"/>
<path d="M135.1 237.6H140.8M135.1 257.82H140.8M135.1 278.04H140.8M135.1 298.26H140.8M135.1 318.48H140.8M135.1 338.7H140.8" stroke="#000" stroke-width="1.9" fill="none"/>
<path d="M151.64 339.4V342.9M157.74 339.4V342.9M162.08 339.4V342.9M165.44 339.4V342.9M168.18 339.4V342.9M170.5 339.4V342.9M172.51 339.4V342.9M174.29 339.4V342.9M186.31 339.4V342.9M192.42 339.4V342.9M196.75 339.4V342.9M200.11 339.4V342.9M202.86 339.4V342.9M205.18 339.4V342.9M207.19 339.4V342.9M208.96 339.4V342.9M220.99 339.4V342.9M227.09 339.4V342.9M231.43 339.4V342.9M234.79 339.4V342.9M237.53 339.4V342.9M239.85 339.4V342.9M241.86 339.4V342.9M243.64 339.4V342.9M255.66 339.4V342.9M261.77 339.4V342.9M266.1 339.4V342.9M269.46 339.4V342.9M272.21 339.4V342.9M274.53 339.4V342.9M276.54 339.4V342.9M278.31 339.4V342.9" stroke="#000" stroke-width="1.3" fill="none"/>
<path d="M141.2 339.4V345.4M175.88 339.4V345.4M210.55 339.4V345.4M245.22 339.4V345.4M279.9 339.4V345.4" stroke="#000" stroke-width="1.6" fill="none"/>
<text class="ax" x="132.6" y="360.1">10</text><text class="ex" x="145.8" y="353.1">0</text>
<text class="ax" x="167.27" y="360.1">10</text><text class="ex" x="180.47" y="353.1">1</text>
<text class="ax" x="201.95" y="360.1">10</text><text class="ex" x="215.15" y="353.1">2</text>
<text class="ax" x="236.62" y="360.1">10</text><text class="ex" x="249.82" y="353.1">3</text>
<text class="ax" x="269.6" y="360.1">10</text><text class="ex" x="282.8" y="353.1">4</text>
<text class="fl" x="208.75" y="372.2" text-anchor="middle">FL1-H</text>
<text class="yl" transform="translate(131.5 234.5) rotate(-90)" text-anchor="middle">300</text>
<text class="yl" transform="translate(131.5 335.1) rotate(-90)" text-anchor="middle">0</text>
<text class="cn" transform="translate(117.6 288.15) rotate(-90)" text-anchor="middle">Counts</text>
</g>
<g transform="rotate(0.35 428.5 289.55)">
<clipPath id="c4"><rect x="358.99" y="238.41" width="139.32" height="103.18"/></clipPath>
<g clip-path="url(#c4)">
<path d="M361 339 L362.2 338.6 L363.4 338.2 L364.48 337.92 L366.01 337.11 L366.77 337.26 L367.98 336.67 L369.38 336.23 L371 335.75 L371.92 335.1 L373.33 334.53 L374.44 333.55 L375.78 332.5 L376.46 331.76 L377.35 330.74 L378.77 329.98 L379.33 328.39 L381.05 328.05 L382.34 327.59 L383.49 327.12 L384.99 327.56 L386.53 326.69 L387.62 326 L387.94 324.04 L388.68 322.55 L389.75 321.35 L391.09 320.37 L391.76 319.39 L393.05 318.96 L393.37 318.8 L394.65 317.99 L395.03 316.57 L395.65 314.88 L396.24 314.39 L396.75 313.56 L397.24 311.54 L397.52 310.76 L398.06 307.96 L398.79 307.07 L398.99 306.39 L399.22 305.43 L400.06 304.75 L400.58 302.28 L401.05 302.63 L401.6 301.11 L401.66 299.48 L403.05 297.3 L404.38 296.5 L405.46 295.74 L406.19 294.58 L407.21 292.88 L407.42 291.53 L408.25 290.75 L408.63 289.34 L408.75 288.61 L409.02 288.32 L409.72 285.48 L410.07 285.68 L410.39 282.61 L410.55 281.14 L411.3 280.42 L411.31 279.88 L411.56 276.76 L412.37 277.11 L412.51 272.78 L412.94 272.69 L412.92 271 L413.87 268.53 L413.74 267.52 L414.53 266.56 L414.81 266.39 L414.69 264.14 L415.13 263.97 L415.74 261.04 L416.47 261.39 L416.45 257.55 L417.13 257.08 L417.71 256.24 L418.58 255.88 L418.99 254.44 L418.9 253 L419.26 251.81 L419.67 251.87 L420.2 250.5 L420.55 246.63 L421.45 248.37 L422.73 247.44 L422.85 246.4 L422.92 247.23 L423.7 248.85 L423.85 249.63 L423.85 253.13 L424.36 252.41 L425.44 254.47 L425.4 257.24 L426.53 257.91 L426.3 258.71 L427.14 259.34 L427.44 262.35 L427.82 264.09 L428.24 264.42 L428.48 264.48 L428.37 267.81 L428.87 268.54 L428.74 271.37 L428.98 270.04 L429.22 272.18 L429.61 275.38 L429.43 275.2 L430.28 278.19 L430.45 278.3 L430.82 281.14 L430.97 281.63 L431.1 281.82 L430.92 282.92 L431.19 285.81 L432.06 287.43 L432.2 289.37 L432.56 289.44 L432.5 292.67 L432.67 293.47 L433.01 293.43 L433.15 295.42 L433.31 298.21 L433.83 297.98 L434.42 298.83 L434.68 301.38 L434.57 302.68 L435.55 303.27 L435.42 305.04 L435.99 306.53 L436.53 308.34 L436.96 309.25 L436.81 310.5 L437.1 312.1 L437.89 314.1 L438.41 314.73 L438.74 317.43 L438.96 317.26 L439.28 319.84 L440.1 320.24 L440.5 320.79 L440.81 323.08 L441.33 324.02 L442.28 324.77 L442.48 326.88 L443.17 328.2 L443.79 329.1 L443.81 330.26 L444.74 331.16 L444.73 332.43 L445.58 333.62 L445.51 335.34 L446.74 336.11 L447.59 337.22 L448.17 337.78 L449.5 338.33 L450.75 338.67 L452 339 L453.4 339.02 L454.79 339.04 L456.19 339.06 L457.59 339.09 L458.99 339.11 L460.38 339.13 L461.78 339.15 L463.18 339.17 L464.57 339.19 L465.97 339.22 L467.37 339.24 L468.77 339.26 L470.16 339.28 L471.56 339.3 L472.96 339.32 L474.36 339.35 L475.75 339.37 L477.15 339.39 L478.55 339.41 L479.94 339.43 L481.34 339.45 L482.74 339.47 L484.14 339.5 L485.53 339.52 L486.93 339.54 L488.33 339.56 L489.72 339.58 L491.12 339.6 L492.52 339.63 L493.92 339.65 L495.31 339.67 L496.71 339.69 L496.71 341.59 L360.29 341.59 Z" fill="#8b8b8b" stroke="none"/>
<path d="M361 339 L362.2 338.6 L363.4 338.2 L364.48 337.92 L366.01 337.11 L366.77 337.26 L367.98 336.67 L369.38 336.23 L371 335.75 L371.92 335.1 L373.33 334.53 L374.44 333.55 L375.78 332.5 L376.46 331.76 L377.35 330.74 L378.77 329.98 L379.33 328.39 L381.05 328.05 L382.34 327.59 L383.49 327.12 L384.99 327.56 L386.53 326.69 L387.62 326 L387.94 324.04 L388.68 322.55 L389.75 321.35 L391.09 320.37 L391.76 319.39 L393.05 318.96 L393.37 318.8 L394.65 317.99 L395.03 316.57 L395.65 314.88 L396.24 314.39 L396.75 313.56 L397.24 311.54 L397.52 310.76 L398.06 307.96 L398.79 307.07 L398.99 306.39 L399.22 305.43 L400.06 304.75 L400.58 302.28 L401.05 302.63 L401.6 301.11 L401.66 299.48 L403.05 297.3 L404.38 296.5 L405.46 295.74 L406.19 294.58 L407.21 292.88 L407.42 291.53 L408.25 290.75 L408.63 289.34 L408.75 288.61 L409.02 288.32 L409.72 285.48 L410.07 285.68 L410.39 282.61 L410.55 281.14 L411.3 280.42 L411.31 279.88 L411.56 276.76 L412.37 277.11 L412.51 272.78 L412.94 272.69 L412.92 271 L413.87 268.53 L413.74 267.52 L414.53 266.56 L414.81 266.39 L414.69 264.14 L415.13 263.97 L415.74 261.04 L416.47 261.39 L416.45 257.55 L417.13 257.08 L417.71 256.24 L418.58 255.88 L418.99 254.44 L418.9 253 L419.26 251.81 L419.67 251.87 L420.2 250.5 L420.55 246.63 L421.45 248.37 L422.73 247.44 L422.85 246.4 L422.92 247.23 L423.7 248.85 L423.85 249.63 L423.85 253.13 L424.36 252.41 L425.44 254.47 L425.4 257.24 L426.53 257.91 L426.3 258.71 L427.14 259.34 L427.44 262.35 L427.82 264.09 L428.24 264.42 L428.48 264.48 L428.37 267.81 L428.87 268.54 L428.74 271.37 L428.98 270.04 L429.22 272.18 L429.61 275.38 L429.43 275.2 L430.28 278.19 L430.45 278.3 L430.82 281.14 L430.97 281.63 L431.1 281.82 L430.92 282.92 L431.19 285.81 L432.06 287.43 L432.2 289.37 L432.56 289.44 L432.5 292.67 L432.67 293.47 L433.01 293.43 L433.15 295.42 L433.31 298.21 L433.83 297.98 L434.42 298.83 L434.68 301.38 L434.57 302.68 L435.55 303.27 L435.42 305.04 L435.99 306.53 L436.53 308.34 L436.96 309.25 L436.81 310.5 L437.1 312.1 L437.89 314.1 L438.41 314.73 L438.74 317.43 L438.96 317.26 L439.28 319.84 L440.1 320.24 L440.5 320.79 L440.81 323.08 L441.33 324.02 L442.28 324.77 L442.48 326.88 L443.17 328.2 L443.79 329.1 L443.81 330.26 L444.74 331.16 L444.73 332.43 L445.58 333.62 L445.51 335.34 L446.74 336.11 L447.59 337.22 L448.17 337.78 L449.5 338.33 L450.75 338.67 L452 339 L453.4 339.02 L454.79 339.04 L456.19 339.06 L457.59 339.09 L458.99 339.11 L460.38 339.13 L461.78 339.15 L463.18 339.17 L464.57 339.19 L465.97 339.22 L467.37 339.24 L468.77 339.26 L470.16 339.28 L471.56 339.3 L472.96 339.32 L474.36 339.35 L475.75 339.37 L477.15 339.39 L478.55 339.41 L479.94 339.43 L481.34 339.45 L482.74 339.47 L484.14 339.5 L485.53 339.52 L486.93 339.54 L488.33 339.56 L489.72 339.58 L491.12 339.6 L492.52 339.63 L493.92 339.65 L495.31 339.67 L496.71 339.69" fill="none" stroke="#000" stroke-width="2.8" stroke-linejoin="miter" stroke-miterlimit="3" stroke-linecap="butt"/>
<path d="M361 337.75 L361.68 336.85 L362.56 336.23 L362.55 335.1 L362.76 333.66 L363.01 332.28 L362.45 331.71 L363.15 330.71 L363.1 328.52 L362.73 327.45 L362.82 326 L362.93 325.06 L363 324.51 L363.42 322.12 L363.27 321.91 L363.55 321.07 L364.55 318.9 L365.06 318.54 L365.77 316.38 L366.9 315.02 L367.39 315.72 L368.49 314.59 L369 311.99 L369.37 311.51 L370.1 311.33 L370.18 309.71 L370.65 307.53 L371.4 307.42 L371.95 304.5 L371.95 305.11 L372.78 302.95 L373.39 302.65 L373.83 300.56 L374.05 299.5 L374.66 297.93 L375.24 296.14 L375.61 296.64 L375.92 293.73 L376.6 292.38 L377.63 292.28 L378.03 289.89 L378.72 287.99 L379.01 287.93 L378.89 286.08 L379.7 284.05 L379.69 285.52 L379.85 283.66 L380.31 285.35 L381.06 286.01 L380.92 287.82 L381.39 288.67 L381.82 286.85 L381.82 286.07 L382.44 285.15 L382.53 281.99 L382.32 282.28 L382.69 283.99 L382.93 285.45 L382.8 286.58 L383.21 287.25 L383.63 288.16 L383.75 289.79 L384.25 289.83 L384.45 289.11 L384.7 287.8 L385 285.49 L385.1 286.34 L385.23 284.68 L385.72 282.69 L386.02 284.71 L386.39 284.78 L386.78 286.36 L387.2 287.84 L388.5 285.97 L389.22 286.15 L390.3 287.78 L390.58 288.1 L391.19 289.01 L391.83 291.81 L391.79 293.81 L391.99 293.61 L392.76 296.28 L392.76 295.63 L393.39 297.65 L393.78 300.29 L394.1 300.66 L394.34 302.11 L394.07 303.91 L394.19 304.13 L394.65 305.66 L395.2 306.7 L395.72 307.48 L395.83 309.94 L396.08 309.55 L396.5 311.4 L396.87 312.86 L397.1 313.82 L397.84 315.5 L398.13 315.7 L398.32 317.03 L398.54 319.32 L399.42 320.49 L399.68 320.92 L400.52 322.95 L400.43 324.7 L400.95 324.52 L401.68 327.13 L402.12 327.38 L402.89 329.22 L403.58 330.23 L404.03 331.58 L404.62 332.49 L405.94 333.74 L406.84 334.7 L407.21 335.49 L408.07 336.45 L409.65 337.09 L410.69 336.96 L412.18 337.13 L413.11 337.58 L414.21 337.86 L415.5 337.68 L417.03 337.84 L417.98 338.36 L419.5 338.25 L420.75 338.38 L422 338.5 L423.25 338.62 L424.5 338.75 L425.75 338.88 L427 339 L428.25 339.12 L429.5 339.25 L430.75 339.38 L432 339.5" fill="none" stroke="#000" stroke-width="1.45" stroke-linejoin="miter" stroke-miterlimit="3"/>
</g>
<path d="M358.99 238.91H496.71V341.59" fill="none" stroke="#000" stroke-width="1.85" stroke-linejoin="miter"/>
<rect x="358.99" y="238.11" width="2.8" height="103.48" fill="#000"/>
<rect x="358.99" y="339.29" width="138.52" height="2.3" fill="#000"/>
<rect x="358.99" y="318" width="4.5" height="20" fill="#000"/>
<path d="M356.89 244.51H359.19M356.89 248.5H359.19M356.89 252.5H359.19M356.89 256.49H359.19M356.89 264.48H359.19M356.89 268.48H359.19M356.89 272.47H359.19M356.89 276.47H359.19M356.89 284.46H359.19M356.89 288.45H359.19M356.89 292.45H359.19M356.89 296.44H359.19M356.89 304.43H359.19M356.89 308.43H359.19M356.89 312.42H359.19M356.89 316.42H359.19M356.89 324.41H359.19M356.89 328.4H359.19M356.89 332.4H359.19M356.89 336.39H359.19" stroke="#000" stroke-width="1.7" fill="none"/>
<path d="M354.19 240.51H359.19M354.19 260.49H359.19M354.19 280.46H359.19M354.19 300.44H359.19M354.19 320.41H359.19M354.19 340.39H359.19" stroke="#000" stroke-width="1.9" fill="none"/>
<path d="M370.56 341.09V344.59M376.56 341.09V344.59M380.82 341.09V344.59M384.13 341.09V344.59M386.83 341.09V344.59M389.11 341.09V344.59M391.09 341.09V344.59M392.83 341.09V344.59M404.66 341.09V344.59M410.67 341.09V344.59M414.93 341.09V344.59M418.23 341.09V344.59M420.93 341.09V344.59M423.22 341.09V344.59M425.19 341.09V344.59M426.94 341.09V344.59M438.77 341.09V344.59M444.77 341.09V344.59M449.03 341.09V344.59M452.34 341.09V344.59M455.04 341.09V344.59M457.32 341.09V344.59M459.3 341.09V344.59M461.04 341.09V344.59M472.87 341.09V344.59M478.88 341.09V344.59M483.14 341.09V344.59M486.44 341.09V344.59M489.14 341.09V344.59M491.43 341.09V344.59M493.4 341.09V344.59M495.15 341.09V344.59" stroke="#000" stroke-width="1.3" fill="none"/>
<path d="M360.29 341.09V347.09M394.39 341.09V347.09M428.5 341.09V347.09M462.61 341.09V347.09M496.71 341.09V347.09" stroke="#000" stroke-width="1.6" fill="none"/>
<text class="ax" x="351.99" y="360.71">10</text><text class="ex" x="364.29" y="353.91">0</text>
<text class="ax" x="386.09" y="360.71">10</text><text class="ex" x="398.39" y="353.91">1</text>
<text class="ax" x="420.2" y="360.71">10</text><text class="ex" x="432.5" y="353.91">2</text>
<text class="ax" x="454.31" y="360.71">10</text><text class="ex" x="466.61" y="353.91">3</text>
<text class="ax" x="486.41" y="360.71">10</text><text class="ex" x="498.71" y="353.91">4</text>
<text class="fl" x="426.7" y="372.91" text-anchor="middle">FL1-H</text>
<text class="yl" transform="translate(350.59 237.41) rotate(-90)" text-anchor="middle">250</text>
<text class="yl" transform="translate(350.59 335.89) rotate(-90)" text-anchor="middle">0</text>
<text class="cn" transform="translate(336.69 290.55) rotate(-90)" text-anchor="middle">Counts</text>
</g>
<g>
<clipPath id="c5"><rect x="141.3" y="413.5" width="140" height="105.25"/></clipPath>
<g clip-path="url(#c5)">
<path d="M142.5 516 L143.89 516 L145.28 516 L146.66 516 L148.05 516 L149.44 516 L150.82 516 L152.21 516 L153.6 516 L154.99 516 L156.38 516 L157.76 516 L159.15 516 L160.54 516 L161.93 516 L163.31 516 L164.7 516 L166.09 516 L167.47 516 L168.86 516 L170.25 516 L171.64 516 L173.03 516 L174.41 516 L175.8 516 L177.19 516 L178.57 516 L179.96 516 L181.35 516 L182.74 516 L184.12 516 L185.51 516 L186.9 516 L188.29 516 L189.68 516 L191.06 516 L192.45 516 L193.84 516 L195.22 516 L196.61 516 L198 516 L199.12 514.75 L200.51 513.4 L200.57 512.16 L201.52 511.28 L201.15 510.04 L201.72 509.36 L201.55 507.64 L201.76 506.62 L202.07 505.08 L202.49 503.55 L202.4 501.44 L202.35 501.13 L202.93 499.63 L202.57 498.55 L203.27 497.39 L203.33 495.7 L203.19 493.79 L203.21 492.96 L203.46 491.93 L203.52 489.48 L203.55 488.13 L204.17 487.92 L204.41 484.85 L204.38 484.64 L204.28 484.16 L204.65 481.39 L204.89 480.34 L204.77 479.08 L204.91 476.63 L205.29 475.96 L205.17 474.29 L205.39 472.67 L205.15 471.67 L205.88 471.58 L205.91 468.65 L205.85 469.03 L206.19 466.88 L205.86 465.32 L206.61 465.41 L206.51 462.51 L206.64 461.79 L206.68 461.25 L206.89 457.63 L207.14 458.08 L206.83 456.19 L207.58 455.21 L207.51 453.32 L207.47 453.56 L207.51 450.54 L207.51 449.34 L208.05 448.56 L208.4 445.78 L208 444.73 L208.23 445.23 L208.27 442.38 L208.96 440.8 L208.72 439.47 L208.76 437.78 L209.26 435.36 L208.86 436.82 L209.45 434.12 L209.42 432.95 L209.4 431.46 L209.6 430.7 L209.73 429.35 L209.66 429.5 L209.77 426.24 L210.16 423.6 L210.93 423.41 L210.73 421.54 L211.08 420.98 L212 421.21 L211.81 418.82 L212.92 417.79 L213.51 415.2 L215.23 417.12 L215.94 415.2 L216.97 416.78 L217.02 421.56 L217.28 422.11 L217.99 422.23 L217.96 422.6 L218.13 425.13 L218.5 426.47 L218.56 429.12 L218.83 428.58 L219.05 431.62 L219.35 432.59 L219.71 432.52 L219.84 432.94 L219.88 435.59 L220.01 435.89 L220.51 437.86 L220.43 438.43 L221.03 442.37 L220.82 442.1 L221.17 442.79 L221.82 445.59 L222.15 447.19 L222.02 448.85 L222.13 449.58 L222.69 449.31 L222.81 452.09 L222.96 452.07 L223.58 456.23 L223.77 457.64 L223.9 456.27 L223.88 458.71 L224.58 461.13 L224.86 461.83 L224.91 463.08 L224.7 464.41 L224.98 466.54 L225.56 466.25 L225.29 467.81 L225.41 468.92 L226.27 472.21 L226.11 473.44 L226.15 475.06 L226.62 475.4 L226.62 475.22 L227.01 478.11 L227.32 479.8 L227.68 479.36 L227.72 480.87 L228.04 483.23 L227.66 484.27 L228.51 486.7 L228.84 487.26 L228.95 488.97 L229.09 490.5 L229.13 490.79 L229.72 493.15 L230.24 493.24 L230.53 495.06 L230.36 497.12 L231.07 497.64 L230.93 500.14 L231.87 500.62 L232.09 502.45 L232.67 503.06 L233.16 504.12 L234.09 505.75 L234.94 507.14 L235.46 508.09 L236.37 509.03 L237.21 511.02 L238.56 512.08 L239.4 512.84 L240.67 513.52 L241.95 514.04 L243 514.5 L244.25 515 L245.66 515.04 L247.06 515.08 L248.47 515.12 L249.88 515.17 L251.28 515.21 L252.69 515.25 L254.09 515.29 L255.5 515.33 L256.91 515.38 L258.31 515.42 L259.72 515.46 L261.12 515.5 L262.53 515.54 L263.94 515.58 L265.34 515.62 L266.75 515.67 L268.16 515.71 L269.56 515.75 L270.97 515.79 L272.38 515.83 L273.78 515.88 L275.19 515.92 L276.59 515.96 L278 516 L279.7 518.75 L142.4 518.75 Z" fill="#8b8b8b" stroke="none"/>
<path d="M142.5 516 L143.89 516 L145.28 516 L146.66 516 L148.05 516 L149.44 516 L150.82 516 L152.21 516 L153.6 516 L154.99 516 L156.38 516 L157.76 516 L159.15 516 L160.54 516 L161.93 516 L163.31 516 L164.7 516 L166.09 516 L167.47 516 L168.86 516 L170.25 516 L171.64 516 L173.03 516 L174.41 516 L175.8 516 L177.19 516 L178.57 516 L179.96 516 L181.35 516 L182.74 516 L184.12 516 L185.51 516 L186.9 516 L188.29 516 L189.68 516 L191.06 516 L192.45 516 L193.84 516 L195.22 516 L196.61 516 L198 516 L199.12 514.75 L200.51 513.4 L200.57 512.16 L201.52 511.28 L201.15 510.04 L201.72 509.36 L201.55 507.64 L201.76 506.62 L202.07 505.08 L202.49 503.55 L202.4 501.44 L202.35 501.13 L202.93 499.63 L202.57 498.55 L203.27 497.39 L203.33 495.7 L203.19 493.79 L203.21 492.96 L203.46 491.93 L203.52 489.48 L203.55 488.13 L204.17 487.92 L204.41 484.85 L204.38 484.64 L204.28 484.16 L204.65 481.39 L204.89 480.34 L204.77 479.08 L204.91 476.63 L205.29 475.96 L205.17 474.29 L205.39 472.67 L205.15 471.67 L205.88 471.58 L205.91 468.65 L205.85 469.03 L206.19 466.88 L205.86 465.32 L206.61 465.41 L206.51 462.51 L206.64 461.79 L206.68 461.25 L206.89 457.63 L207.14 458.08 L206.83 456.19 L207.58 455.21 L207.51 453.32 L207.47 453.56 L207.51 450.54 L207.51 449.34 L208.05 448.56 L208.4 445.78 L208 444.73 L208.23 445.23 L208.27 442.38 L208.96 440.8 L208.72 439.47 L208.76 437.78 L209.26 435.36 L208.86 436.82 L209.45 434.12 L209.42 432.95 L209.4 431.46 L209.6 430.7 L209.73 429.35 L209.66 429.5 L209.77 426.24 L210.16 423.6 L210.93 423.41 L210.73 421.54 L211.08 420.98 L212 421.21 L211.81 418.82 L212.92 417.79 L213.51 415.2 L215.23 417.12 L215.94 415.2 L216.97 416.78 L217.02 421.56 L217.28 422.11 L217.99 422.23 L217.96 422.6 L218.13 425.13 L218.5 426.47 L218.56 429.12 L218.83 428.58 L219.05 431.62 L219.35 432.59 L219.71 432.52 L219.84 432.94 L219.88 435.59 L220.01 435.89 L220.51 437.86 L220.43 438.43 L221.03 442.37 L220.82 442.1 L221.17 442.79 L221.82 445.59 L222.15 447.19 L222.02 448.85 L222.13 449.58 L222.69 449.31 L222.81 452.09 L222.96 452.07 L223.58 456.23 L223.77 457.64 L223.9 456.27 L223.88 458.71 L224.58 461.13 L224.86 461.83 L224.91 463.08 L224.7 464.41 L224.98 466.54 L225.56 466.25 L225.29 467.81 L225.41 468.92 L226.27 472.21 L226.11 473.44 L226.15 475.06 L226.62 475.4 L226.62 475.22 L227.01 478.11 L227.32 479.8 L227.68 479.36 L227.72 480.87 L228.04 483.23 L227.66 484.27 L228.51 486.7 L228.84 487.26 L228.95 488.97 L229.09 490.5 L229.13 490.79 L229.72 493.15 L230.24 493.24 L230.53 495.06 L230.36 497.12 L231.07 497.64 L230.93 500.14 L231.87 500.62 L232.09 502.45 L232.67 503.06 L233.16 504.12 L234.09 505.75 L234.94 507.14 L235.46 508.09 L236.37 509.03 L237.21 511.02 L238.56 512.08 L239.4 512.84 L240.67 513.52 L241.95 514.04 L243 514.5 L244.25 515 L245.66 515.04 L247.06 515.08 L248.47 515.12 L249.88 515.17 L251.28 515.21 L252.69 515.25 L254.09 515.29 L255.5 515.33 L256.91 515.38 L258.31 515.42 L259.72 515.46 L261.12 515.5 L262.53 515.54 L263.94 515.58 L265.34 515.62 L266.75 515.67 L268.16 515.71 L269.56 515.75 L270.97 515.79 L272.38 515.83 L273.78 515.88 L275.19 515.92 L276.59 515.96 L278 516" fill="none" stroke="#000" stroke-width="2.8" stroke-linejoin="miter" stroke-miterlimit="3" stroke-linecap="butt"/>
<path d="M142.5 514.5 L143.45 513.89 L143.57 512.5 L143.82 511 L143.97 510.02 L143.4 509.02 L143.54 508.07 L143.9 505.86 L144.14 504.75 L144.18 503.03 L143.77 502.69 L143.8 500.99 L143.72 500.18 L144.93 498.73 L145.5 498.18 L146.2 498.08 L146.78 496 L147.36 495.41 L148.35 494.7 L148.49 491.68 L149.56 490.64 L150.21 489.67 L150.92 490.06 L152.07 488.44 L152.2 488.18 L152.76 485.36 L153.14 484.4 L153.93 484.1 L153.96 482.5 L154.73 482.08 L154.99 480.21 L155.11 479.9 L155.39 476.87 L155.57 475.92 L155.93 474.39 L156.2 474.72 L156.33 471.49 L156.67 470.34 L157.48 470.94 L157.66 467.33 L157.83 468.17 L157.79 465.56 L158.51 464.7 L158.93 463.83 L159.7 463.32 L160.26 462.21 L160.28 460.38 L160.65 458.9 L161.08 458.84 L161.47 456.18 L161.69 455.03 L162.23 452.49 L162.82 452.54 L162.73 452.37 L163.02 450.7 L163.66 450.25 L163.87 448.87 L164.67 446.98 L164.94 444.4 L165.69 443 L166.53 442.59 L167.06 442.12 L167.29 439.93 L168.45 437.56 L169.7 439.76 L170.41 436.54 L171.02 434.83 L171.04 433.22 L171.5 432.95 L171.72 434.82 L171.93 437.7 L172.22 438.86 L172.4 438.96 L172.84 438.41 L173.03 442.62 L172.63 440.86 L173.05 442.98 L173.48 444.41 L173.75 446.28 L173.71 446.62 L174.14 447.68 L174.24 449.01 L174.58 451.84 L174.67 453.41 L175.07 452.29 L175.18 455.01 L175.41 456.16 L175.81 458.26 L175.95 457.44 L175.93 459.14 L176.51 461.43 L176.08 463.16 L176.22 463.49 L176.52 463.96 L177.08 467.57 L176.96 466.76 L177.66 469.99 L177.73 470.78 L177.51 470.01 L177.7 472.68 L177.83 474.28 L178.05 476.29 L178.76 476.84 L178.76 478.19 L179.31 479.14 L179.22 480.27 L179.68 480.18 L179.79 481.6 L179.93 482.65 L180.36 484.85 L180.41 486.56 L180.53 487.2 L181.02 488.37 L180.99 489.96 L181.06 492.21 L181.73 493.36 L181.59 494.18 L182.27 495.24 L182.56 495.87 L182.72 497.2 L182.89 498.22 L182.7 500.07 L183.59 500.86 L183.97 501.97 L184.54 503.51 L184.67 504.63 L185.09 505.69 L186.09 507.22 L186.75 508.88 L187.77 510.34 L188.76 511.23 L189.24 511.68 L190.37 512.82 L191.44 513.39 L192.78 514.28 L194.25 515 L195.5 515.2 L196.75 515.4 L198 515.6 L199.25 515.8 L200.5 516" fill="none" stroke="#000" stroke-width="1.45" stroke-linejoin="miter" stroke-miterlimit="3"/>
</g>
<path d="M141.3 414H279.7V518.75" fill="none" stroke="#000" stroke-width="1.85" stroke-linejoin="miter"/>
<rect x="141.3" y="413.2" width="2.4" height="105.55" fill="#000"/>
<rect x="141.3" y="516.45" width="139.2" height="2.3" fill="#000"/>
<rect x="141.3" y="458" width="3.1" height="44" fill="#000"/>
<rect x="279.1" y="496" width="2.5" height="11.2" fill="#000"/>
<rect x="279.1" y="507.2" width="1.6" height="7.5" fill="#000"/>
<path d="M139 419H141.5M139 422.4H141.5M139 425.8H141.5M139 429.19H141.5M139 432.59H141.5M139 439.39H141.5M139 442.79H141.5M139 446.19H141.5M139 449.58H141.5M139 452.98H141.5M139 459.78H141.5M139 463.18H141.5M139 466.57H141.5M139 469.97H141.5M139 473.37H141.5M139 480.17H141.5M139 483.57H141.5M139 486.96H141.5M139 490.36H141.5M139 493.76H141.5M139 500.56H141.5M139 503.96H141.5M139 507.35H141.5M139 510.75H141.5M139 514.15H141.5" stroke="#000" stroke-width="1.5" fill="none"/>
<path d="M136.3 415.6H141.5M136.3 435.99H141.5M136.3 456.38H141.5M136.3 476.77H141.5M136.3 497.16H141.5M136.3 517.55H141.5" stroke="#000" stroke-width="1.9" fill="none"/>
<path d="M152.73 518.25V521.75M158.78 518.25V521.75M163.07 518.25V521.75M166.39 518.25V521.75M169.11 518.25V521.75M171.41 518.25V521.75M173.4 518.25V521.75M175.15 518.25V521.75M187.06 518.25V521.75M193.1 518.25V521.75M197.39 518.25V521.75M200.72 518.25V521.75M203.44 518.25V521.75M205.73 518.25V521.75M207.72 518.25V521.75M209.48 518.25V521.75M221.38 518.25V521.75M227.43 518.25V521.75M231.72 518.25V521.75M235.04 518.25V521.75M237.76 518.25V521.75M240.06 518.25V521.75M242.05 518.25V521.75M243.8 518.25V521.75M255.71 518.25V521.75M261.75 518.25V521.75M266.04 518.25V521.75M269.37 518.25V521.75M272.09 518.25V521.75M274.38 518.25V521.75M276.37 518.25V521.75M278.13 518.25V521.75" stroke="#000" stroke-width="1.3" fill="none"/>
<path d="M142.4 518.25V524.25M176.72 518.25V524.25M211.05 518.25V524.25M245.38 518.25V524.25M279.7 518.25V524.25" stroke="#000" stroke-width="1.6" fill="none"/>
<text class="ax" x="133.8" y="538.1">10</text><text class="ex" x="147" y="531.1">0</text>
<text class="ax" x="168.12" y="538.1">10</text><text class="ex" x="181.32" y="531.1">1</text>
<text class="ax" x="202.45" y="538.1">10</text><text class="ex" x="215.65" y="531.1">2</text>
<text class="ax" x="236.77" y="538.1">10</text><text class="ex" x="249.97" y="531.1">3</text>
<text class="ax" x="269.4" y="538.1">10</text><text class="ex" x="282.6" y="531.1">4</text>
<text class="fl" x="209.25" y="550.2" text-anchor="middle">FL1-H</text>
<text class="yl" transform="translate(132.7 412.5) rotate(-90)" text-anchor="middle">300</text>
<text class="yl" transform="translate(132.7 513.8) rotate(-90)" text-anchor="middle">0</text>
<text class="cn" transform="translate(118.8 466.5) rotate(-90)" text-anchor="middle">Counts</text>
</g>
<g transform="rotate(0.35 427.45 469.55)">
<clipPath id="c6"><rect x="357.99" y="418.41" width="139.02" height="103.18"/></clipPath>
<g clip-path="url(#c6)">
<path d="M360.25 519.99 L360.25 518.59 L359.91 517.49 L360.47 515.44 L360.46 514.69 L360.03 513.51 L360.15 511.56 L360.36 510.46 L360.42 508.53 L360.24 506.92 L360.09 506.02 L359.95 504.4 L360.47 502.72 L360.2 501.06 L360.42 499.75 L360.03 499.5 L360.21 497.76 L360.33 496.26 L360.2 494.18 L360 492.87 L360.07 491.7 L360.52 490.06 L359.99 488.78 L359.99 488.63 L360.57 487.11 L360.57 485.21 L360.22 483.43 L360.36 481.67 L360.27 480.64 L360.37 480.46 L360.36 477.19 L360.32 477.33 L360.28 474.17 L359.97 474.04 L360.4 472.52 L360.41 471.28 L360.48 468.94 L360.48 469.06 L359.98 466.16 L360.11 466.4 L360.35 462.88 L360.41 462.19 L360.5 460.69 L359.97 459.46 L360.22 458.36 L360.28 455.95 L360.09 454.33 L360.59 454.35 L360.1 451.92 L360.32 449.97 L360.01 450.76 L360.27 449.51 L360.49 446.82 L360.43 447.06 L360.48 444.74 L360.43 441.6 L360.03 442.1 L360.29 440.83 L360.19 437.43 L360.12 436.56 L360.37 435.29 L360.43 434.99 L360.17 433.88 L360.52 431.44 L359.94 432.02 L360.1 430.75 L360.23 427.52 L360.49 424.99 L360.51 424.22 L360.44 425.47 L360.49 421.65 L360.58 421.01 L360.11 420.11 L361.54 420.27 L363.38 420.25 L365.27 420.11 L365.17 421.89 L365.71 423.13 L366.53 423.8 L367.11 423.66 L367.34 425.37 L367.68 426.3 L368.12 430.35 L369.08 430.69 L369.1 429.84 L368.95 433.88 L369.5 432.83 L369.72 437.59 L369.24 436.93 L369.98 438.13 L369.61 440.39 L370.09 442.46 L370.14 442.76 L370.45 445.52 L371.29 446.81 L371.08 445.4 L371.89 447.65 L372.24 449.49 L371.97 448.97 L372.74 450.75 L372.81 453.14 L372.85 452.71 L373.45 453.71 L373.64 456.15 L373.72 456.7 L374.43 460.07 L374.49 460.86 L375.04 462.41 L374.77 464.02 L375.24 465.66 L375.39 467.01 L375.43 468.99 L376.27 470.66 L376.49 472.83 L376.54 472.75 L377 473.67 L376.99 476.13 L377.09 478.58 L378.01 478.82 L378.08 479.86 L378.37 480.5 L378.69 482 L379.13 484.38 L379.85 484.27 L379.74 486.78 L380.93 487.89 L381.26 489.8 L381.67 489.17 L382.5 491.69 L382.74 493.14 L383.58 494.67 L383.88 494.39 L384.31 495.99 L384.88 498.03 L385.47 499.88 L386.02 500.91 L386.69 502.23 L387.31 502.84 L388.26 504.35 L389.45 505.6 L390.25 506.01 L391.12 508.24 L392.19 508.25 L392.83 509.65 L394.29 510.78 L395.2 510.99 L396.21 512.11 L397.31 513.63 L399 513.86 L400.34 514.4 L401.48 515.3 L402.45 516.39 L403.96 516.52 L405.11 516.85 L406.47 517.26 L407.4 517.56 L408.95 517.52 L410.21 518.14 L411.94 518.11 L413.26 518.32 L415 518.5 L416.39 518.58 L417.78 518.67 L419.17 518.75 L420.56 518.83 L421.94 518.92 L423.33 519 L424.72 519.08 L426.11 519.17 L427.5 519.25 L428.75 519.62 L430 519.99 L431.41 519.99 L432.83 519.99 L434.24 519.99 L435.65 519.99 L437.07 519.99 L438.48 519.99 L439.89 519.99 L441.3 519.99 L442.72 519.99 L444.13 519.99 L445.54 519.99 L446.96 519.99 L448.37 519.99 L449.78 519.99 L451.2 519.99 L452.61 519.99 L454.02 519.99 L455.43 519.99 L456.85 519.99 L458.26 519.99 L459.67 519.99 L461.09 519.99 L462.5 519.99 L463.91 519.99 L465.33 519.99 L466.74 519.99 L468.15 519.99 L469.57 519.99 L470.98 519.99 L472.39 519.99 L473.8 519.99 L475.22 519.99 L476.63 519.99 L478.04 519.99 L479.46 519.99 L480.87 519.99 L482.28 519.99 L483.7 519.99 L485.11 519.99 L486.52 519.99 L487.93 519.99 L489.35 519.99 L490.76 519.99 L492.17 519.99 L493.59 519.99 L495 519.99 L495.41 521.59 L359.49 521.59 Z" fill="#8b8b8b" stroke="none"/>
<path d="M360.25 519.99 L360.25 518.59 L359.91 517.49 L360.47 515.44 L360.46 514.69 L360.03 513.51 L360.15 511.56 L360.36 510.46 L360.42 508.53 L360.24 506.92 L360.09 506.02 L359.95 504.4 L360.47 502.72 L360.2 501.06 L360.42 499.75 L360.03 499.5 L360.21 497.76 L360.33 496.26 L360.2 494.18 L360 492.87 L360.07 491.7 L360.52 490.06 L359.99 488.78 L359.99 488.63 L360.57 487.11 L360.57 485.21 L360.22 483.43 L360.36 481.67 L360.27 480.64 L360.37 480.46 L360.36 477.19 L360.32 477.33 L360.28 474.17 L359.97 474.04 L360.4 472.52 L360.41 471.28 L360.48 468.94 L360.48 469.06 L359.98 466.16 L360.11 466.4 L360.35 462.88 L360.41 462.19 L360.5 460.69 L359.97 459.46 L360.22 458.36 L360.28 455.95 L360.09 454.33 L360.59 454.35 L360.1 451.92 L360.32 449.97 L360.01 450.76 L360.27 449.51 L360.49 446.82 L360.43 447.06 L360.48 444.74 L360.43 441.6 L360.03 442.1 L360.29 440.83 L360.19 437.43 L360.12 436.56 L360.37 435.29 L360.43 434.99 L360.17 433.88 L360.52 431.44 L359.94 432.02 L360.1 430.75 L360.23 427.52 L360.49 424.99 L360.51 424.22 L360.44 425.47 L360.49 421.65 L360.58 421.01 L360.11 420.11 L361.54 420.27 L363.38 420.25 L365.27 420.11 L365.17 421.89 L365.71 423.13 L366.53 423.8 L367.11 423.66 L367.34 425.37 L367.68 426.3 L368.12 430.35 L369.08 430.69 L369.1 429.84 L368.95 433.88 L369.5 432.83 L369.72 437.59 L369.24 436.93 L369.98 438.13 L369.61 440.39 L370.09 442.46 L370.14 442.76 L370.45 445.52 L371.29 446.81 L371.08 445.4 L371.89 447.65 L372.24 449.49 L371.97 448.97 L372.74 450.75 L372.81 453.14 L372.85 452.71 L373.45 453.71 L373.64 456.15 L373.72 456.7 L374.43 460.07 L374.49 460.86 L375.04 462.41 L374.77 464.02 L375.24 465.66 L375.39 467.01 L375.43 468.99 L376.27 470.66 L376.49 472.83 L376.54 472.75 L377 473.67 L376.99 476.13 L377.09 478.58 L378.01 478.82 L378.08 479.86 L378.37 480.5 L378.69 482 L379.13 484.38 L379.85 484.27 L379.74 486.78 L380.93 487.89 L381.26 489.8 L381.67 489.17 L382.5 491.69 L382.74 493.14 L383.58 494.67 L383.88 494.39 L384.31 495.99 L384.88 498.03 L385.47 499.88 L386.02 500.91 L386.69 502.23 L387.31 502.84 L388.26 504.35 L389.45 505.6 L390.25 506.01 L391.12 508.24 L392.19 508.25 L392.83 509.65 L394.29 510.78 L395.2 510.99 L396.21 512.11 L397.31 513.63 L399 513.86 L400.34 514.4 L401.48 515.3 L402.45 516.39 L403.96 516.52 L405.11 516.85 L406.47 517.26 L407.4 517.56 L408.95 517.52 L410.21 518.14 L411.94 518.11 L413.26 518.32 L415 518.5 L416.39 518.58 L417.78 518.67 L419.17 518.75 L420.56 518.83 L421.94 518.92 L423.33 519 L424.72 519.08 L426.11 519.17 L427.5 519.25 L428.75 519.62 L430 519.99 L431.41 519.99 L432.83 519.99 L434.24 519.99 L435.65 519.99 L437.07 519.99 L438.48 519.99 L439.89 519.99 L441.3 519.99 L442.72 519.99 L444.13 519.99 L445.54 519.99 L446.96 519.99 L448.37 519.99 L449.78 519.99 L451.2 519.99 L452.61 519.99 L454.02 519.99 L455.43 519.99 L456.85 519.99 L458.26 519.99 L459.67 519.99 L461.09 519.99 L462.5 519.99 L463.91 519.99 L465.33 519.99 L466.74 519.99 L468.15 519.99 L469.57 519.99 L470.98 519.99 L472.39 519.99 L473.8 519.99 L475.22 519.99 L476.63 519.99 L478.04 519.99 L479.46 519.99 L480.87 519.99 L482.28 519.99 L483.7 519.99 L485.11 519.99 L486.52 519.99 L487.93 519.99 L489.35 519.99 L490.76 519.99 L492.17 519.99 L493.59 519.99 L495 519.99" fill="none" stroke="#000" stroke-width="2.8" stroke-linejoin="miter" stroke-miterlimit="3" stroke-linecap="butt"/>
<path d="M360.25 519 L360.91 517.63 L361.45 516.71 L361.6 515.57 L361.13 513.58 L361.41 512.69 L361.21 511.52 L361.3 510.15 L361.59 508.33 L361.47 507.57 L361.59 505.68 L361.9 504.43 L361.5 502.7 L361.97 502.41 L361.81 500.78 L361.51 498.53 L361.8 498.77 L362.14 496.03 L361.52 494.65 L361.62 494.76 L362.02 493.6 L361.85 490.88 L362.22 491.44 L361.73 487.97 L362.6 487.32 L363.86 486.97 L363.85 484.44 L364.36 485.2 L364.97 481.62 L364.65 480.3 L365.24 480.12 L365.67 478.55 L365.99 478.49 L365.85 477.7 L366.32 473.86 L366.68 474.44 L366.9 472.97 L366.93 472.17 L367.35 468.9 L367.45 468.88 L367.75 468.25 L368.12 467.82 L368.8 464.31 L369 463 L369.5 462.45 L370.15 461.21 L371.04 462.63 L371.75 461.75 L372.66 459 L373.38 458.73 L374.78 458.24 L375.65 457.14 L377.23 455.19 L377.94 458.3 L378.63 460.04 L379.48 459.22 L379.76 462.53 L380.67 463.83 L381.05 464.53 L381.94 465.31 L382.47 466.97 L382.46 468.92 L383.07 469.58 L383.79 471.49 L383.99 471.67 L384.82 473.71 L384.82 475.32 L386.02 475.22 L386.44 477.38 L387.62 478.04 L388.34 479.57 L389.2 480.01 L389.89 479.05 L390.17 480.25 L390.96 481.92 L390.9 484.96 L391.69 484.11 L391.68 487.06 L392.61 488.39 L392.74 489.17 L392.67 491.34 L393.49 491.79 L393.14 493.61 L393.8 494.68 L394.04 494.26 L394.88 495.87 L395.29 497.88 L395.54 499.44 L396.07 499.32 L395.95 501.65 L396.65 502.94 L397.75 504.25 L397.92 505.71 L399.03 506.4 L399.08 507.86 L399.6 508.95 L400.2 509.73 L400.91 511.37 L401.35 512.71 L402.03 514.15 L402.71 514.91 L403.46 516.13 L404.84 516.86 L406.18 517.47 L407.61 518 L408.92 518.66 L410 518.56 L411.25 518.72 L412.5 518.88 L413.75 519.03 L415 519.19 L416.25 519.34 L417.5 519.5" fill="none" stroke="#000" stroke-width="1.45" stroke-linejoin="miter" stroke-miterlimit="3"/>
</g>
<path d="M357.99 418.91H495.41V521.59" fill="none" stroke="#000" stroke-width="1.85" stroke-linejoin="miter"/>
<rect x="357.99" y="418.11" width="3.4" height="103.48" fill="#000"/>
<rect x="357.99" y="519.29" width="138.22" height="2.3" fill="#000"/>
<path d="M356.09 423.36H358.19M356.09 426.22H358.19M356.09 429.07H358.19M356.09 431.92H358.19M356.09 434.78H358.19M356.09 437.63H358.19M356.09 443.34H358.19M356.09 446.19H358.19M356.09 449.05H358.19M356.09 451.9H358.19M356.09 454.75H358.19M356.09 457.61H358.19M356.09 463.32H358.19M356.09 466.17H358.19M356.09 469.02H358.19M356.09 471.88H358.19M356.09 474.73H358.19M356.09 477.58H358.19M356.09 483.29H358.19M356.09 486.15H358.19M356.09 489H358.19M356.09 491.85H358.19M356.09 494.71H358.19M356.09 497.56H358.19M356.09 503.27H358.19M356.09 506.12H358.19M356.09 508.98H358.19M356.09 511.83H358.19M356.09 514.68H358.19M356.09 517.54H358.19" stroke="#000" stroke-width="1.5" fill="none"/>
<path d="M353.39 420.51H358.19M353.39 440.49H358.19M353.39 460.46H358.19M353.39 480.44H358.19M353.39 500.41H358.19M353.39 520.39H358.19" stroke="#000" stroke-width="1.9" fill="none"/>
<path d="M369.72 521.09V524.59M375.7 521.09V524.59M379.95 521.09V524.59M383.24 521.09V524.59M385.93 521.09V524.59M388.21 521.09V524.59M390.18 521.09V524.59M391.92 521.09V524.59M403.7 521.09V524.59M409.68 521.09V524.59M413.93 521.09V524.59M417.22 521.09V524.59M419.91 521.09V524.59M422.19 521.09V524.59M424.16 521.09V524.59M425.9 521.09V524.59M437.68 521.09V524.59M443.66 521.09V524.59M447.91 521.09V524.59M451.2 521.09V524.59M453.89 521.09V524.59M456.17 521.09V524.59M458.14 521.09V524.59M459.88 521.09V524.59M471.66 521.09V524.59M477.64 521.09V524.59M481.89 521.09V524.59M485.18 521.09V524.59M487.87 521.09V524.59M490.15 521.09V524.59M492.12 521.09V524.59M493.86 521.09V524.59" stroke="#000" stroke-width="1.3" fill="none"/>
<path d="M359.49 521.09V527.09M393.47 521.09V527.09M427.45 521.09V527.09M461.43 521.09V527.09M495.41 521.09V527.09" stroke="#000" stroke-width="1.6" fill="none"/>
<text class="ax" x="351.19" y="540.71">10</text><text class="ex" x="363.49" y="533.91">0</text>
<text class="ax" x="385.17" y="540.71">10</text><text class="ex" x="397.47" y="533.91">1</text>
<text class="ax" x="419.15" y="540.71">10</text><text class="ex" x="431.45" y="533.91">2</text>
<text class="ax" x="453.13" y="540.71">10</text><text class="ex" x="465.43" y="533.91">3</text>
<text class="ax" x="485.11" y="540.71">10</text><text class="ex" x="497.41" y="533.91">4</text>
<text class="fl" x="425.65" y="552.91" text-anchor="middle">FL1-H</text>
<text class="yl" transform="translate(349.79 417.41) rotate(-90)" text-anchor="middle">400</text>
<text class="yl" transform="translate(349.79 515.89) rotate(-90)" text-anchor="middle">0</text>
<text class="cn" transform="translate(335.89 470.55) rotate(-90)" text-anchor="middle">Counts</text>
</g>
<g>
<clipPath id="c7"><rect x="140.1" y="597.7" width="140.8" height="105.6"/></clipPath>
<g clip-path="url(#c7)">
<path d="M141.5 701 L142.9 700.99 L144.3 700.98 L145.7 700.96 L147.1 700.95 L148.5 700.94 L149.9 700.92 L151.3 700.91 L152.7 700.9 L154.1 700.89 L155.5 700.88 L156.9 700.86 L158.3 700.85 L159.7 700.84 L161.1 700.83 L162.5 700.81 L163.9 700.8 L165.3 700.79 L166.7 700.77 L168.1 700.76 L169.5 700.75 L170.9 700.74 L172.3 700.73 L173.7 700.71 L175.1 700.7 L176.5 700.69 L177.9 700.67 L179.3 700.66 L180.7 700.65 L182.1 700.64 L183.5 700.62 L184.9 700.61 L186.3 700.6 L187.7 700.59 L189.1 700.58 L190.5 700.56 L191.9 700.55 L193.3 700.54 L194.7 700.52 L196.1 700.51 L197.5 700.5 L198.11 699.12 L198.8 698.02 L199.83 696.65 L199.56 694.67 L199.46 693.18 L199.58 691.63 L199.86 690.54 L200.35 688.89 L199.86 688.5 L200.55 686.52 L200.35 684.9 L200.33 683.45 L200.2 683.27 L200.81 681.76 L200.39 680.02 L200.4 678.83 L200.49 677.29 L200.63 676.68 L201.23 674.23 L201.31 673.63 L200.87 672.46 L201.44 669.81 L201.37 668.56 L201.01 667.48 L201.17 666.88 L201.66 664.1 L201.54 662.23 L201.6 662.11 L202.02 661.61 L201.96 658.86 L202.23 657.79 L202.27 655.76 L202.42 653.89 L202.16 652.55 L202.23 652.18 L202.72 649.14 L202.56 648.2 L202.8 648.35 L202.98 647.66 L202.83 644.25 L202.96 643.48 L202.72 641.08 L203.24 640.73 L202.79 638.71 L202.86 636.84 L203.37 636.78 L203.13 634.99 L203.19 634.23 L203.47 631.45 L203.44 632.75 L203.73 630.2 L203.58 628.21 L203.48 626.8 L203.54 624.53 L203.62 626.46 L204.28 621.84 L203.94 620.73 L204.01 621.11 L204.01 619.19 L204.04 618.09 L204.1 616.04 L204.36 614.52 L204.49 615.03 L204.6 613.86 L204.55 611.93 L205.16 611.42 L205.2 607.58 L205.35 607.35 L205.29 605.82 L205.18 602.09 L205.78 604.3 L206.16 600.38 L207.19 601.51 L208.94 599.53 L210.79 599.4 L211.72 599.4 L212.78 600.07 L213.3 600.33 L213.63 605.2 L213.83 603.47 L214.02 607.69 L213.66 607.29 L213.76 608.5 L214.23 608.83 L214.2 612.82 L213.82 611.84 L214.38 615.62 L214.08 617.22 L214.37 615.42 L214.48 617.4 L214.25 621.04 L214.07 622.44 L214.35 623.01 L214.35 624.26 L214.35 625.66 L214.55 627.11 L214.29 628.88 L214.49 630.53 L214.71 631.38 L214.73 630.95 L215.15 634.26 L215.19 635.46 L214.85 635.94 L215.16 638.69 L215.19 638.11 L214.88 640.01 L214.77 640.8 L215.04 642.05 L214.99 644.61 L215.36 645.31 L215.52 645.79 L215 647.65 L215.56 649.13 L215.58 650.73 L215.67 652.6 L215.29 655.12 L215.99 656.47 L215.73 656.94 L215.75 658.96 L215.96 659.61 L216.24 661.91 L216.28 661.96 L216.75 662.65 L216.28 664.47 L216.4 667.25 L216.86 668.4 L216.69 668.9 L217.44 669.37 L217.64 672.87 L217.92 672.61 L217.89 674.81 L218.11 676.91 L218.22 677.11 L218.88 679.26 L218.91 680.68 L219.1 681.39 L218.98 682.91 L219.55 684.14 L220.17 685.62 L220.49 687.77 L220.36 688.52 L221.01 690.8 L221.16 691.18 L221.66 692.97 L222.25 693.28 L223.24 695.11 L223.53 696 L224.65 696.92 L225.92 698.06 L227.44 699.02 L229.19 699.01 L230.12 698.87 L231.74 699.23 L233.3 699.18 L234.44 699.31 L236.08 699.23 L237.17 699.57 L238.49 699.28 L240.09 699.51 L241.38 699.71 L242.93 699.61 L244.33 699.67 L245.74 699.72 L247.14 699.78 L248.54 699.83 L249.94 699.89 L251.35 699.94 L252.75 700 L254.15 700.06 L255.56 700.11 L256.96 700.17 L258.36 700.22 L259.76 700.28 L261.17 700.33 L262.57 700.39 L263.97 700.44 L265.38 700.5 L266.78 700.56 L268.18 700.61 L269.58 700.67 L270.99 700.72 L272.39 700.78 L273.79 700.83 L275.19 700.89 L276.6 700.94 L278 701 L279.3 703.3 L141 703.3 Z" fill="#8b8b8b" stroke="none"/>
<path d="M141.5 701 L142.9 700.99 L144.3 700.98 L145.7 700.96 L147.1 700.95 L148.5 700.94 L149.9 700.92 L151.3 700.91 L152.7 700.9 L154.1 700.89 L155.5 700.88 L156.9 700.86 L158.3 700.85 L159.7 700.84 L161.1 700.83 L162.5 700.81 L163.9 700.8 L165.3 700.79 L166.7 700.77 L168.1 700.76 L169.5 700.75 L170.9 700.74 L172.3 700.73 L173.7 700.71 L175.1 700.7 L176.5 700.69 L177.9 700.67 L179.3 700.66 L180.7 700.65 L182.1 700.64 L183.5 700.62 L184.9 700.61 L186.3 700.6 L187.7 700.59 L189.1 700.58 L190.5 700.56 L191.9 700.55 L193.3 700.54 L194.7 700.52 L196.1 700.51 L197.5 700.5 L198.11 699.12 L198.8 698.02 L199.83 696.65 L199.56 694.67 L199.46 693.18 L199.58 691.63 L199.86 690.54 L200.35 688.89 L199.86 688.5 L200.55 686.52 L200.35 684.9 L200.33 683.45 L200.2 683.27 L200.81 681.76 L200.39 680.02 L200.4 678.83 L200.49 677.29 L200.63 676.68 L201.23 674.23 L201.31 673.63 L200.87 672.46 L201.44 669.81 L201.37 668.56 L201.01 667.48 L201.17 666.88 L201.66 664.1 L201.54 662.23 L201.6 662.11 L202.02 661.61 L201.96 658.86 L202.23 657.79 L202.27 655.76 L202.42 653.89 L202.16 652.55 L202.23 652.18 L202.72 649.14 L202.56 648.2 L202.8 648.35 L202.98 647.66 L202.83 644.25 L202.96 643.48 L202.72 641.08 L203.24 640.73 L202.79 638.71 L202.86 636.84 L203.37 636.78 L203.13 634.99 L203.19 634.23 L203.47 631.45 L203.44 632.75 L203.73 630.2 L203.58 628.21 L203.48 626.8 L203.54 624.53 L203.62 626.46 L204.28 621.84 L203.94 620.73 L204.01 621.11 L204.01 619.19 L204.04 618.09 L204.1 616.04 L204.36 614.52 L204.49 615.03 L204.6 613.86 L204.55 611.93 L205.16 611.42 L205.2 607.58 L205.35 607.35 L205.29 605.82 L205.18 602.09 L205.78 604.3 L206.16 600.38 L207.19 601.51 L208.94 599.53 L210.79 599.4 L211.72 599.4 L212.78 600.07 L213.3 600.33 L213.63 605.2 L213.83 603.47 L214.02 607.69 L213.66 607.29 L213.76 608.5 L214.23 608.83 L214.2 612.82 L213.82 611.84 L214.38 615.62 L214.08 617.22 L214.37 615.42 L214.48 617.4 L214.25 621.04 L214.07 622.44 L214.35 623.01 L214.35 624.26 L214.35 625.66 L214.55 627.11 L214.29 628.88 L214.49 630.53 L214.71 631.38 L214.73 630.95 L215.15 634.26 L215.19 635.46 L214.85 635.94 L215.16 638.69 L215.19 638.11 L214.88 640.01 L214.77 640.8 L215.04 642.05 L214.99 644.61 L215.36 645.31 L215.52 645.79 L215 647.65 L215.56 649.13 L215.58 650.73 L215.67 652.6 L215.29 655.12 L215.99 656.47 L215.73 656.94 L215.75 658.96 L215.96 659.61 L216.24 661.91 L216.28 661.96 L216.75 662.65 L216.28 664.47 L216.4 667.25 L216.86 668.4 L216.69 668.9 L217.44 669.37 L217.64 672.87 L217.92 672.61 L217.89 674.81 L218.11 676.91 L218.22 677.11 L218.88 679.26 L218.91 680.68 L219.1 681.39 L218.98 682.91 L219.55 684.14 L220.17 685.62 L220.49 687.77 L220.36 688.52 L221.01 690.8 L221.16 691.18 L221.66 692.97 L222.25 693.28 L223.24 695.11 L223.53 696 L224.65 696.92 L225.92 698.06 L227.44 699.02 L229.19 699.01 L230.12 698.87 L231.74 699.23 L233.3 699.18 L234.44 699.31 L236.08 699.23 L237.17 699.57 L238.49 699.28 L240.09 699.51 L241.38 699.71 L242.93 699.61 L244.33 699.67 L245.74 699.72 L247.14 699.78 L248.54 699.83 L249.94 699.89 L251.35 699.94 L252.75 700 L254.15 700.06 L255.56 700.11 L256.96 700.17 L258.36 700.22 L259.76 700.28 L261.17 700.33 L262.57 700.39 L263.97 700.44 L265.38 700.5 L266.78 700.56 L268.18 700.61 L269.58 700.67 L270.99 700.72 L272.39 700.78 L273.79 700.83 L275.19 700.89 L276.6 700.94 L278 701" fill="none" stroke="#000" stroke-width="2.8" stroke-linejoin="miter" stroke-miterlimit="3" stroke-linecap="butt"/>
<path d="M141.5 700.25 L142.5 699.1 L142.89 697.54 L142.55 696.65 L142.82 695.45 L143.32 693.51 L143.12 692.37 L143.23 692.05 L143.29 690.11 L144.12 688.92 L144.89 687.91 L146.2 688.04 L146.72 686.91 L147.96 684.85 L148.61 683.36 L149.44 682.93 L150.64 682.57 L151.66 681.25 L152.57 680 L153.13 679.48 L153.91 677.21 L154.07 677.03 L154.46 675.26 L154.83 674.89 L155.32 672.09 L155.96 670.42 L155.88 670.6 L156.29 669.7 L157.09 667.86 L157.02 667.59 L157.41 665.72 L157.62 664.77 L158.12 661.64 L157.92 660.26 L158.23 659.72 L158.61 658.71 L159.01 658.14 L158.9 655.6 L159.8 656.65 L159.58 653.42 L160.24 652.67 L160.26 652.57 L160.88 649.93 L160.99 647.85 L161.24 649.19 L162.06 645.98 L162.06 643.73 L162.59 643 L162.71 643.9 L162.87 642.89 L162.93 638.85 L163.07 637.54 L163.48 637.41 L163.7 634.98 L163.97 636.52 L165.41 637.54 L166.27 637.67 L166.15 636.16 L166.6 633.13 L167.09 633.5 L167 630.12 L167.39 631.36 L167.55 628.79 L168.28 627.53 L168.65 626.56 L168.49 624.48 L169.56 622.92 L169.09 623.01 L169.49 621 L169.59 618.49 L169.82 617.39 L169.87 615.86 L170.09 614.8 L170.64 615.45 L170.3 616.83 L170.87 619.01 L170.64 617.63 L170.89 621.04 L171.27 622.8 L171.16 620.98 L171.6 623.63 L171.76 626.4 L171.68 627.55 L172.68 628.28 L172.96 629.91 L173.54 631.3 L173.91 630.45 L174.23 632.65 L174.87 633.71 L174.87 634.55 L175 637.47 L175.66 638.11 L175.86 637.38 L175.92 640.48 L176.24 641.36 L176.33 642.6 L176.73 642.87 L176.98 645.49 L177.48 645.89 L177.57 649.07 L177.36 650.1 L177.5 648.8 L178.04 650.97 L178.32 653.97 L178.68 655.28 L178.64 655.71 L178.86 656.58 L178.87 657.23 L179.73 659.76 L179.77 658.96 L179.9 661.39 L180.22 663.63 L179.98 664.24 L180.51 666 L180.54 667.35 L181.01 668.35 L181.04 667.91 L181.52 670.59 L181.89 671.39 L182.08 672.16 L182.37 673.1 L183.17 675.2 L183.67 675.92 L183.56 678.29 L184.36 679.77 L184.3 679.89 L184.82 681.81 L185.57 682.18 L185.94 683.95 L187.18 686.06 L187.63 687.02 L187.95 688.13 L189.26 688.13 L189.42 689.22 L190.7 689.57 L191.65 691.22 L192.38 691.4 L193.35 692.36 L194.45 693.35 L195.83 693.93 L196.4 694.14 L197.8 694.74 L198.27 695.92 L199.1 697.39 L200.19 697.84 L201.72 698.28 L203.13 699.09" fill="none" stroke="#000" stroke-width="1.45" stroke-linejoin="miter" stroke-miterlimit="3"/>
</g>
<path d="M140.1 598.2H279.3V703.3" fill="none" stroke="#000" stroke-width="1.85" stroke-linejoin="miter"/>
<rect x="140.1" y="597.4" width="1.8" height="105.9" fill="#000"/>
<rect x="140.1" y="701" width="140" height="2.3" fill="#000"/>
<rect x="140.1" y="610.5" width="2.9" height="80.5" fill="#000"/>
<rect x="278.7" y="691.2" width="2.5" height="6.8" fill="#000"/>
<rect x="278.7" y="698" width="1.6" height="1.8" fill="#000"/>
<path d="M137.6 603.21H140.3M137.6 606.62H140.3M137.6 610.03H140.3M137.6 613.44H140.3M137.6 616.85H140.3M137.6 623.67H140.3M137.6 627.08H140.3M137.6 630.49H140.3M137.6 633.9H140.3M137.6 637.31H140.3M137.6 644.13H140.3M137.6 647.54H140.3M137.6 650.95H140.3M137.6 654.36H140.3M137.6 657.77H140.3M137.6 664.59H140.3M137.6 668H140.3M137.6 671.41H140.3M137.6 674.82H140.3M137.6 678.23H140.3M137.6 685.05H140.3M137.6 688.46H140.3M137.6 691.87H140.3M137.6 695.28H140.3M137.6 698.69H140.3" stroke="#000" stroke-width="1.5" fill="none"/>
<path d="M134.9 599.8H140.3M134.9 620.26H140.3M134.9 640.72H140.3M134.9 661.18H140.3M134.9 681.64H140.3M134.9 702.1H140.3" stroke="#000" stroke-width="1.9" fill="none"/>
<path d="M151.41 702.8V706.3M157.5 702.8V706.3M161.82 702.8V706.3M165.17 702.8V706.3M167.9 702.8V706.3M170.22 702.8V706.3M172.22 702.8V706.3M173.99 702.8V706.3M185.98 702.8V706.3M192.07 702.8V706.3M196.39 702.8V706.3M199.74 702.8V706.3M202.48 702.8V706.3M204.79 702.8V706.3M206.8 702.8V706.3M208.57 702.8V706.3M220.56 702.8V706.3M226.65 702.8V706.3M230.97 702.8V706.3M234.32 702.8V706.3M237.05 702.8V706.3M239.37 702.8V706.3M241.37 702.8V706.3M243.14 702.8V706.3M255.13 702.8V706.3M261.22 702.8V706.3M265.54 702.8V706.3M268.89 702.8V706.3M271.63 702.8V706.3M273.94 702.8V706.3M275.95 702.8V706.3M277.72 702.8V706.3" stroke="#000" stroke-width="1.3" fill="none"/>
<path d="M141 702.8V708.8M175.57 702.8V708.8M210.15 702.8V708.8M244.73 702.8V708.8M279.3 702.8V708.8" stroke="#000" stroke-width="1.6" fill="none"/>
<text class="ax" x="132.4" y="722.3">10</text><text class="ex" x="145.6" y="715.3">0</text>
<text class="ax" x="166.97" y="722.3">10</text><text class="ex" x="180.17" y="715.3">1</text>
<text class="ax" x="201.55" y="722.3">10</text><text class="ex" x="214.75" y="715.3">2</text>
<text class="ax" x="236.12" y="722.3">10</text><text class="ex" x="249.33" y="715.3">3</text>
<text class="ax" x="269" y="722.3">10</text><text class="ex" x="282.2" y="715.3">4</text>
<text class="fl" x="208.35" y="734.4" text-anchor="middle">FL1-H</text>
<text class="yl" transform="translate(131.3 596.7) rotate(-90)" text-anchor="middle">300</text>
<text class="yl" transform="translate(131.3 698.5) rotate(-90)" text-anchor="middle">0</text>
<text class="cn" transform="translate(117.4 650.95) rotate(-90)" text-anchor="middle">Counts</text>
</g>
<g transform="rotate(0.35 427.6 652.65)">
<clipPath id="c8"><rect x="357.89" y="601.31" width="139.42" height="103.48"/></clipPath>
<g clip-path="url(#c8)">
<path d="M360.25 703 L359.99 701.78 L360.52 700.13 L360.09 698.56 L359.96 697.15 L360.04 696.41 L360.03 694.27 L360.55 693.77 L359.97 691.61 L360.59 690.3 L360.34 689.35 L360.35 686.97 L360.41 686.79 L360.21 684.61 L360.41 684.35 L360.56 681.54 L360.43 680.68 L360.59 680.22 L360.24 678.72 L360.52 675.71 L360.18 676.07 L360.06 673.59 L360.34 672.01 L360.45 670.22 L360.32 669.67 L359.92 668.84 L360.45 667.6 L360.03 665.44 L360.01 664.55 L360.33 663.57 L360 660.54 L359.95 660.91 L360.35 657.44 L360.42 656.85 L360.18 656.38 L360.41 654.17 L360.1 652.5 L360.17 650.52 L360.02 650.2 L360.58 648.88 L360.18 645.84 L360.54 645.3 L360.11 645.12 L360.52 641.86 L359.95 640.78 L360.6 640.32 L359.97 639.36 L360.25 636.21 L359.95 635.67 L360.58 634.46 L360.59 632.89 L360.13 630.57 L360.32 629.37 L360.56 629.55 L359.91 628.14 L360.23 626.89 L360.32 623.58 L360.24 624.02 L359.96 623.5 L360.4 619.65 L359.95 619.01 L360.34 618.44 L359.98 616.93 L360.29 613.96 L360.25 614.28 L360.41 610.93 L359.95 611.79 L360.79 609.73 L360.92 607.53 L360.61 607.14 L360.89 606.41 L361.42 603.01 L361.43 606.03 L361.56 605.17 L361.86 608.38 L362.83 609.81 L363.09 606.32 L363.34 607.93 L363.66 603.4 L363.61 604.75 L364.14 604.04 L364.08 604 L364.69 607.58 L364.5 607.16 L365.34 611.59 L364.9 607.42 L365.77 607.2 L366 606.05 L365.92 606.6 L366.12 605.25 L367.07 603.29 L367.8 607.78 L367.86 604.52 L368.74 603.01 L369.54 605.31 L370.27 605.72 L371.19 603.58 L371.75 603.72 L371.93 605.57 L372.28 606.68 L372.28 608.48 L372.25 610.04 L372.91 611.98 L373.2 613.96 L372.77 614.21 L373.14 613.78 L373.63 617.45 L373.34 618.74 L373.72 620.62 L374.02 621.26 L374.01 622.75 L374.06 622.34 L374.67 626.28 L374.46 626.49 L374.81 627.17 L375.47 629.41 L375.54 631.8 L376.21 631.5 L376.38 632.72 L376.5 633.98 L376.86 634.97 L376.92 638.72 L377.5 638.15 L377.75 641.64 L377.72 642.84 L378.11 641.67 L378.83 643.89 L379.05 644.76 L378.78 647.79 L379.1 649.33 L379.57 651.08 L379.86 651.45 L380.08 651.82 L380.53 652.91 L380.89 654.27 L381.19 655.05 L381.37 656.81 L381.82 659.81 L382.5 659.66 L382.62 661.79 L383.08 662.54 L382.94 663.88 L383.43 663.86 L383.59 666.55 L383.99 666.74 L384.43 668.06 L385.02 669.11 L385.27 671.4 L385.7 673.07 L386.82 672.67 L387.08 675.49 L387.29 676.95 L387.9 676.35 L388.19 678.1 L388.85 680.06 L389.55 681.58 L390.07 681.96 L390.2 684.13 L390.87 685.42 L391.19 685.57 L392.28 687.69 L392.21 688.82 L393.56 690.05 L394.33 690.64 L394.97 692.65 L396.11 692.9 L396.78 694.53 L397.75 695.81 L398.83 697.4 L400.01 698.45 L401.48 698.84 L402.29 699.96 L403.66 700.47 L405.16 701.01 L406.64 701.24 L408.05 701.11 L409.73 701.58 L410.71 701.56 L412.3 701.75 L413.74 701.67 L414.99 701.97 L416.52 701.65 L418 702.17 L419.32 701.98 L420.68 702.02 L422.05 702.07 L423.41 702.11 L424.77 702.16 L426.14 702.2 L427.5 702.25 L429 702.15 L430.5 702.05 L431.8 702.18 L433.78 701.82 L435.08 701.62 L436.41 701.86 L438.12 702.12 L439.69 702.31 L441.25 702.5 L442.66 702.51 L444.08 702.53 L445.49 702.54 L446.91 702.55 L448.32 702.57 L449.74 702.58 L451.15 702.59 L452.57 702.61 L453.98 702.62 L455.39 702.63 L456.81 702.64 L458.22 702.66 L459.64 702.67 L461.05 702.68 L462.47 702.7 L463.88 702.71 L465.3 702.72 L466.71 702.74 L468.12 702.75 L469.54 702.76 L470.95 702.78 L472.37 702.79 L473.78 702.8 L475.2 702.82 L476.61 702.83 L478.03 702.84 L479.44 702.86 L480.86 702.87 L482.27 702.88 L483.68 702.89 L485.1 702.91 L486.51 702.92 L487.93 702.93 L489.34 702.95 L490.76 702.96 L492.17 702.97 L493.59 702.99 L495 703 L495.71 704.79 L359.49 704.79 Z" fill="#8b8b8b" stroke="none"/>
<path d="M360.25 703 L359.99 701.78 L360.52 700.13 L360.09 698.56 L359.96 697.15 L360.04 696.41 L360.03 694.27 L360.55 693.77 L359.97 691.61 L360.59 690.3 L360.34 689.35 L360.35 686.97 L360.41 686.79 L360.21 684.61 L360.41 684.35 L360.56 681.54 L360.43 680.68 L360.59 680.22 L360.24 678.72 L360.52 675.71 L360.18 676.07 L360.06 673.59 L360.34 672.01 L360.45 670.22 L360.32 669.67 L359.92 668.84 L360.45 667.6 L360.03 665.44 L360.01 664.55 L360.33 663.57 L360 660.54 L359.95 660.91 L360.35 657.44 L360.42 656.85 L360.18 656.38 L360.41 654.17 L360.1 652.5 L360.17 650.52 L360.02 650.2 L360.58 648.88 L360.18 645.84 L360.54 645.3 L360.11 645.12 L360.52 641.86 L359.95 640.78 L360.6 640.32 L359.97 639.36 L360.25 636.21 L359.95 635.67 L360.58 634.46 L360.59 632.89 L360.13 630.57 L360.32 629.37 L360.56 629.55 L359.91 628.14 L360.23 626.89 L360.32 623.58 L360.24 624.02 L359.96 623.5 L360.4 619.65 L359.95 619.01 L360.34 618.44 L359.98 616.93 L360.29 613.96 L360.25 614.28 L360.41 610.93 L359.95 611.79 L360.79 609.73 L360.92 607.53 L360.61 607.14 L360.89 606.41 L361.42 603.01 L361.43 606.03 L361.56 605.17 L361.86 608.38 L362.83 609.81 L363.09 606.32 L363.34 607.93 L363.66 603.4 L363.61 604.75 L364.14 604.04 L364.08 604 L364.69 607.58 L364.5 607.16 L365.34 611.59 L364.9 607.42 L365.77 607.2 L366 606.05 L365.92 606.6 L366.12 605.25 L367.07 603.29 L367.8 607.78 L367.86 604.52 L368.74 603.01 L369.54 605.31 L370.27 605.72 L371.19 603.58 L371.75 603.72 L371.93 605.57 L372.28 606.68 L372.28 608.48 L372.25 610.04 L372.91 611.98 L373.2 613.96 L372.77 614.21 L373.14 613.78 L373.63 617.45 L373.34 618.74 L373.72 620.62 L374.02 621.26 L374.01 622.75 L374.06 622.34 L374.67 626.28 L374.46 626.49 L374.81 627.17 L375.47 629.41 L375.54 631.8 L376.21 631.5 L376.38 632.72 L376.5 633.98 L376.86 634.97 L376.92 638.72 L377.5 638.15 L377.75 641.64 L377.72 642.84 L378.11 641.67 L378.83 643.89 L379.05 644.76 L378.78 647.79 L379.1 649.33 L379.57 651.08 L379.86 651.45 L380.08 651.82 L380.53 652.91 L380.89 654.27 L381.19 655.05 L381.37 656.81 L381.82 659.81 L382.5 659.66 L382.62 661.79 L383.08 662.54 L382.94 663.88 L383.43 663.86 L383.59 666.55 L383.99 666.74 L384.43 668.06 L385.02 669.11 L385.27 671.4 L385.7 673.07 L386.82 672.67 L387.08 675.49 L387.29 676.95 L387.9 676.35 L388.19 678.1 L388.85 680.06 L389.55 681.58 L390.07 681.96 L390.2 684.13 L390.87 685.42 L391.19 685.57 L392.28 687.69 L392.21 688.82 L393.56 690.05 L394.33 690.64 L394.97 692.65 L396.11 692.9 L396.78 694.53 L397.75 695.81 L398.83 697.4 L400.01 698.45 L401.48 698.84 L402.29 699.96 L403.66 700.47 L405.16 701.01 L406.64 701.24 L408.05 701.11 L409.73 701.58 L410.71 701.56 L412.3 701.75 L413.74 701.67 L414.99 701.97 L416.52 701.65 L418 702.17 L419.32 701.98 L420.68 702.02 L422.05 702.07 L423.41 702.11 L424.77 702.16 L426.14 702.2 L427.5 702.25 L429 702.15 L430.5 702.05 L431.8 702.18 L433.78 701.82 L435.08 701.62 L436.41 701.86 L438.12 702.12 L439.69 702.31 L441.25 702.5 L442.66 702.51 L444.08 702.53 L445.49 702.54 L446.91 702.55 L448.32 702.57 L449.74 702.58 L451.15 702.59 L452.57 702.61 L453.98 702.62 L455.39 702.63 L456.81 702.64 L458.22 702.66 L459.64 702.67 L461.05 702.68 L462.47 702.7 L463.88 702.71 L465.3 702.72 L466.71 702.74 L468.12 702.75 L469.54 702.76 L470.95 702.78 L472.37 702.79 L473.78 702.8 L475.2 702.82 L476.61 702.83 L478.03 702.84 L479.44 702.86 L480.86 702.87 L482.27 702.88 L483.68 702.89 L485.1 702.91 L486.51 702.92 L487.93 702.93 L489.34 702.95 L490.76 702.96 L492.17 702.97 L493.59 702.99 L495 703" fill="none" stroke="#000" stroke-width="2.8" stroke-linejoin="miter" stroke-miterlimit="3" stroke-linecap="butt"/>
<path d="M360.25 702.25 L361.1 701.18 L361.01 699.99 L361.23 698.56 L361.71 697 L361.68 696.53 L361.72 694.56 L361.47 694.15 L361.64 692.75 L361.89 690.49 L361.85 689.56 L362.08 688.06 L362.63 687.34 L363.02 686.59 L363.79 685.34 L364.68 683.91 L365.1 682.62 L365.12 681.45 L366.02 680.08 L366.19 679.16 L366.49 678.21 L367.04 674.98 L367.31 674.81 L367.6 673.18 L368.16 671.66 L368.24 671.35 L368.52 668.61 L368.6 668.58 L369.48 666.31 L369.79 665.1 L370.02 664.36 L370.27 664.71 L371.02 661.01 L371.47 660.11 L372.16 660.55 L372.46 658.12 L372.42 658.64 L372.72 655.91 L373.29 653.69 L373.25 654.55 L373.69 652.84 L373.42 650.48 L373.68 649.7 L374.33 648.48 L374.57 648.59 L374.46 645.92 L375.23 643.7 L375.13 642.5 L375.86 643.27 L376.04 639.55 L376.45 638.34 L377.21 637.24 L377.37 636.9 L378.24 635.95 L379.06 633.96 L379.68 634.7 L380.54 634.07 L381.48 633.11 L382.08 633.96 L383.05 631.31 L384.14 634.31 L385.13 635.42 L385.54 632.98 L385.56 634 L386.01 629.71 L387 632.07 L386.81 632.52 L387.4 633.43 L388.04 636.41 L388.65 637.34 L389 640.08 L389.79 641 L390.36 641.86 L390.83 643.04 L391.39 643.35 L391.37 643.39 L392.31 646.18 L392.21 647.66 L392.43 647.98 L392.97 649.25 L392.84 652.3 L393.5 652.55 L393.77 653.7 L393.65 654.61 L394.3 654.57 L393.99 657.96 L394.39 658.91 L394.62 659.15 L394.81 660.76 L395.38 663.14 L395.63 664.63 L395.8 664.94 L395.69 665.95 L396.53 666.47 L396.3 669.31 L396.67 669.22 L396.73 671.71 L396.94 671.76 L397.37 672.84 L398.04 675.09 L398.02 676.86 L398.46 677.21 L398.68 679.44 L398.86 680.32 L398.89 681.26 L399.55 682.61 L399.76 683.69 L400.56 685.06 L400.49 686.58 L401.4 687.08 L401.51 688.04 L402.16 689.12 L402.43 691.22 L403.15 692.14 L403.84 693.97 L403.72 695.34 L404.41 695.74 L405.23 697.04 L405.71 697.77 L406.81 698.23 L407.57 699.72 L408.63 699.91 L409.75 700.81 L411.1 701.66" fill="none" stroke="#000" stroke-width="1.45" stroke-linejoin="miter" stroke-miterlimit="3"/>
</g>
<path d="M357.89 601.81H495.71V704.79" fill="none" stroke="#000" stroke-width="1.85" stroke-linejoin="miter"/>
<rect x="357.89" y="601.01" width="4" height="103.78" fill="#000"/>
<rect x="357.89" y="702.49" width="138.62" height="2.3" fill="#000"/>
<path d="M356.09 606.27H358.09M356.09 609.13H358.09M356.09 612H358.09M356.09 614.86H358.09M356.09 617.72H358.09M356.09 620.58H358.09M356.09 626.31H358.09M356.09 629.17H358.09M356.09 632.03H358.09M356.09 634.9H358.09M356.09 637.76H358.09M356.09 640.62H358.09M356.09 646.34H358.09M356.09 649.21H358.09M356.09 652.07H358.09M356.09 654.93H358.09M356.09 657.79H358.09M356.09 660.66H358.09M356.09 666.38H358.09M356.09 669.24H358.09M356.09 672.1H358.09M356.09 674.97H358.09M356.09 677.83H358.09M356.09 680.69H358.09M356.09 686.42H358.09M356.09 689.28H358.09M356.09 692.14H358.09M356.09 695H358.09M356.09 697.87H358.09M356.09 700.73H358.09" stroke="#000" stroke-width="1.5" fill="none"/>
<path d="M353.39 603.41H358.09M353.39 623.45H358.09M353.39 643.48H358.09M353.39 663.52H358.09M353.39 683.55H358.09M353.39 703.59H358.09" stroke="#000" stroke-width="1.9" fill="none"/>
<path d="M369.74 704.29V707.79M375.74 704.29V707.79M379.99 704.29V707.79M383.29 704.29V707.79M385.99 704.29V707.79M388.27 704.29V707.79M390.24 704.29V707.79M391.99 704.29V707.79M403.8 704.29V707.79M409.79 704.29V707.79M414.05 704.29V707.79M417.35 704.29V707.79M420.04 704.29V707.79M422.32 704.29V707.79M424.3 704.29V707.79M426.04 704.29V707.79M437.85 704.29V707.79M443.85 704.29V707.79M448.1 704.29V707.79M451.4 704.29V707.79M454.1 704.29V707.79M456.38 704.29V707.79M458.35 704.29V707.79M460.1 704.29V707.79M471.91 704.29V707.79M477.9 704.29V707.79M482.16 704.29V707.79M485.46 704.29V707.79M488.15 704.29V707.79M490.43 704.29V707.79M492.41 704.29V707.79M494.15 704.29V707.79" stroke="#000" stroke-width="1.3" fill="none"/>
<path d="M359.49 704.29V710.29M393.55 704.29V710.29M427.6 704.29V710.29M461.65 704.29V710.29M495.71 704.29V710.29" stroke="#000" stroke-width="1.6" fill="none"/>
<text class="ax" x="351.19" y="723.61">10</text><text class="ex" x="363.49" y="716.81">0</text>
<text class="ax" x="385.25" y="723.61">10</text><text class="ex" x="397.55" y="716.81">1</text>
<text class="ax" x="419.3" y="723.61">10</text><text class="ex" x="431.6" y="716.81">2</text>
<text class="ax" x="453.35" y="723.61">10</text><text class="ex" x="465.65" y="716.81">3</text>
<text class="ax" x="485.41" y="723.61">10</text><text class="ex" x="497.71" y="716.81">4</text>
<text class="fl" x="425.8" y="735.81" text-anchor="middle">FL1-H</text>
<text class="yl" transform="translate(349.79 600.31) rotate(-90)" text-anchor="middle">400</text>
<text class="yl" transform="translate(349.79 699.19) rotate(-90)" text-anchor="middle">0</text>
<text class="cn" transform="translate(335.89 653.65) rotate(-90)" text-anchor="middle">Counts</text>
</g>
</svg>
</body></html>
